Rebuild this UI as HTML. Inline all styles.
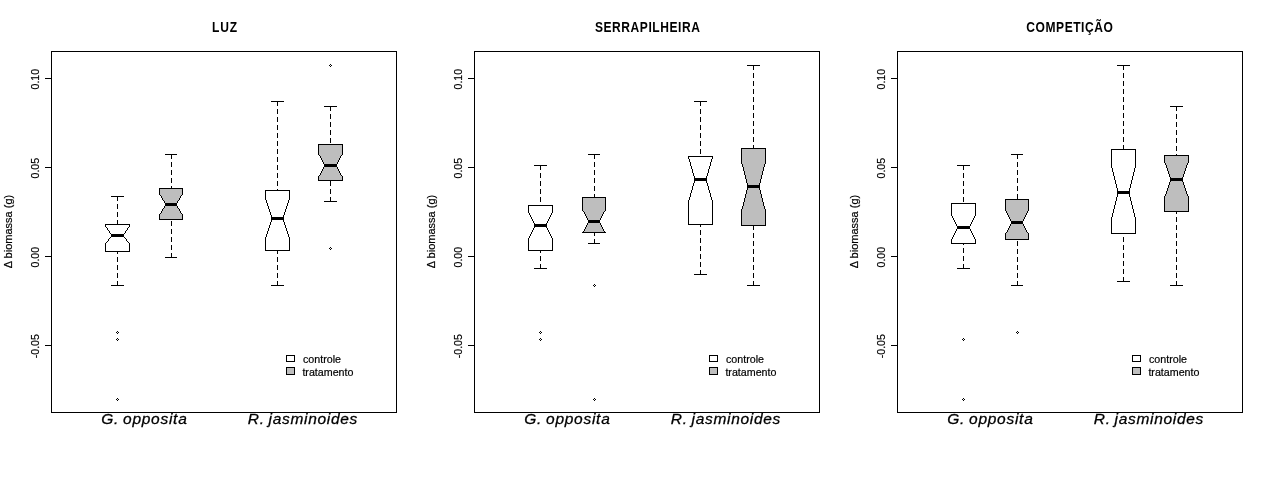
<!DOCTYPE html>
<html><head><meta charset="utf-8"><title>boxplots</title><style>html,body{margin:0;padding:0;background:#fff;}body{width:1269px;height:477px;overflow:hidden;}svg{display:block;}text{filter:opacity(1);}</style></head><body>
<svg width="1269" height="477" viewBox="0 0 1269 477">
<rect x="0" y="0" width="1269" height="477" fill="#fff"/>
<g shape-rendering="crispEdges">
<polygon points="105.5,224.5 129.5,224.5 129.5,226.5 123.5,235.5 129.5,243.5 129.5,251.5 105.5,251.5 105.5,243.5 111.5,235.5 105.5,226.5" fill="#ffffff"/>
<polygon points="159.5,188.5 182.5,188.5 182.5,194.5 176.5,204.5 182.5,214.5 182.5,219.5 159.5,219.5 159.5,214.5 165.5,204.5 159.5,194.5" fill="#bebebe"/>
<polygon points="265.5,190.5 289.5,190.5 289.5,199.5 283.5,218.5 289.5,237.5 289.5,250.5 265.5,250.5 265.5,237.5 271.5,218.5 265.5,199.5" fill="#ffffff"/>
<polygon points="318.5,144.5 342.5,144.5 342.5,154.5 336.5,165.5 342.5,176.5 342.5,180.5 318.5,180.5 318.5,176.5 324.5,165.5 318.5,154.5" fill="#bebebe"/>
<polygon points="286.5,355.5 294.5,355.5 294.5,361.5 286.5,361.5" fill="#ffffff"/>
<polygon points="286.5,367.5 294.5,367.5 294.5,374.5 286.5,374.5" fill="#bebebe"/>
<polygon points="528.5,205.5 552.5,205.5 552.5,212.5 546.5,225.5 552.5,238.5 552.5,250.5 528.5,250.5 528.5,238.5 534.5,225.5 528.5,212.5" fill="#ffffff"/>
<polygon points="582.5,197.5 605.5,197.5 605.5,210.5 599.5,221.5 605.5,232.5 605.5,232.5 582.5,232.5 582.5,232.5 588.5,221.5 582.5,210.5" fill="#bebebe"/>
<polygon points="688.5,156.5 712.5,156.5 712.5,158.5 706.5,179.5 712.5,200.5 712.5,224.5 688.5,224.5 688.5,200.5 694.5,179.5 688.5,158.5" fill="#ffffff"/>
<polygon points="741.5,148.5 765.5,148.5 765.5,163.5 759.5,186.5 765.5,209.5 765.5,225.5 741.5,225.5 741.5,209.5 747.5,186.5 741.5,163.5" fill="#bebebe"/>
<polygon points="709.5,355.5 717.5,355.5 717.5,361.5 709.5,361.5" fill="#ffffff"/>
<polygon points="709.5,367.5 717.5,367.5 717.5,374.5 709.5,374.5" fill="#bebebe"/>
<polygon points="951.5,203.5 975.5,203.5 975.5,215.5 969.5,227.5 975.5,239.5 975.5,243.5 951.5,243.5 951.5,239.5 957.5,227.5 951.5,215.5" fill="#ffffff"/>
<polygon points="1005.5,199.5 1028.5,199.5 1028.5,210.5 1022.5,222.5 1028.5,233.5 1028.5,239.5 1005.5,239.5 1005.5,233.5 1011.5,222.5 1005.5,210.5" fill="#bebebe"/>
<polygon points="1111.5,149.5 1135.5,149.5 1135.5,167.5 1129.5,192.5 1135.5,217.5 1135.5,233.5 1111.5,233.5 1111.5,217.5 1117.5,192.5 1111.5,167.5" fill="#ffffff"/>
<polygon points="1164.5,155.5 1188.5,155.5 1188.5,162.5 1182.5,179.5 1188.5,196.5 1188.5,211.5 1164.5,211.5 1164.5,196.5 1170.5,179.5 1164.5,162.5" fill="#bebebe"/>
<polygon points="1132.5,355.5 1140.5,355.5 1140.5,361.5 1132.5,361.5" fill="#ffffff"/>
<polygon points="1132.5,367.5 1140.5,367.5 1140.5,374.5 1132.5,374.5" fill="#bebebe"/>
<path fill="#000" d="M51 51h346v1h-346zM474 51h346v1h-346zM897 51h346v1h-346zM51 52h1v1h-1zM396 52h1v1h-1zM474 52h1v1h-1zM819 52h1v1h-1zM897 52h1v1h-1zM1242 52h1v1h-1zM51 53h1v1h-1zM396 53h1v1h-1zM474 53h1v1h-1zM819 53h1v1h-1zM897 53h1v1h-1zM1242 53h1v1h-1zM51 54h1v1h-1zM396 54h1v1h-1zM474 54h1v1h-1zM819 54h1v1h-1zM897 54h1v1h-1zM1242 54h1v1h-1zM51 55h1v1h-1zM396 55h1v1h-1zM474 55h1v1h-1zM819 55h1v1h-1zM897 55h1v1h-1zM1242 55h1v1h-1zM51 56h1v1h-1zM396 56h1v1h-1zM474 56h1v1h-1zM819 56h1v1h-1zM897 56h1v1h-1zM1242 56h1v1h-1zM51 57h1v1h-1zM396 57h1v1h-1zM474 57h1v1h-1zM819 57h1v1h-1zM897 57h1v1h-1zM1242 57h1v1h-1zM51 58h1v1h-1zM396 58h1v1h-1zM474 58h1v1h-1zM819 58h1v1h-1zM897 58h1v1h-1zM1242 58h1v1h-1zM51 59h1v1h-1zM396 59h1v1h-1zM474 59h1v1h-1zM819 59h1v1h-1zM897 59h1v1h-1zM1242 59h1v1h-1zM51 60h1v1h-1zM396 60h1v1h-1zM474 60h1v1h-1zM819 60h1v1h-1zM897 60h1v1h-1zM1242 60h1v1h-1zM51 61h1v1h-1zM396 61h1v1h-1zM474 61h1v1h-1zM819 61h1v1h-1zM897 61h1v1h-1zM1242 61h1v1h-1zM51 62h1v1h-1zM396 62h1v1h-1zM474 62h1v1h-1zM819 62h1v1h-1zM897 62h1v1h-1zM1242 62h1v1h-1zM51 63h1v1h-1zM396 63h1v1h-1zM474 63h1v1h-1zM819 63h1v1h-1zM897 63h1v1h-1zM1242 63h1v1h-1zM51 64h1v1h-1zM330 64h1v1h-1zM396 64h1v1h-1zM474 64h1v1h-1zM819 64h1v1h-1zM897 64h1v1h-1zM1242 64h1v1h-1zM51 65h1v1h-1zM329 65h1v1h-1zM331 65h1v1h-1zM396 65h1v1h-1zM474 65h1v1h-1zM747 65h13v1h-13zM819 65h1v1h-1zM897 65h1v1h-1zM1117 65h13v1h-13zM1242 65h1v1h-1zM51 66h1v1h-1zM330 66h1v1h-1zM396 66h1v1h-1zM474 66h1v1h-1zM753 66h1v1h-1zM819 66h1v1h-1zM897 66h1v1h-1zM1123 66h1v1h-1zM1242 66h1v1h-1zM51 67h1v1h-1zM396 67h1v1h-1zM474 67h1v1h-1zM753 67h1v1h-1zM819 67h1v1h-1zM897 67h1v1h-1zM1123 67h1v1h-1zM1242 67h1v1h-1zM51 68h1v1h-1zM396 68h1v1h-1zM474 68h1v1h-1zM753 68h1v1h-1zM819 68h1v1h-1zM897 68h1v1h-1zM1123 68h1v1h-1zM1242 68h1v1h-1zM51 69h1v1h-1zM396 69h1v1h-1zM474 69h1v1h-1zM753 69h1v1h-1zM819 69h1v1h-1zM897 69h1v1h-1zM1123 69h1v1h-1zM1242 69h1v1h-1zM51 70h1v1h-1zM396 70h1v1h-1zM474 70h1v1h-1zM819 70h1v1h-1zM897 70h1v1h-1zM1242 70h1v1h-1zM51 71h1v1h-1zM396 71h1v1h-1zM474 71h1v1h-1zM819 71h1v1h-1zM897 71h1v1h-1zM1242 71h1v1h-1zM51 72h1v1h-1zM396 72h1v1h-1zM474 72h1v1h-1zM819 72h1v1h-1zM897 72h1v1h-1zM1242 72h1v1h-1zM51 73h1v1h-1zM396 73h1v1h-1zM474 73h1v1h-1zM753 73h1v1h-1zM819 73h1v1h-1zM897 73h1v1h-1zM1123 73h1v1h-1zM1242 73h1v1h-1zM51 74h1v1h-1zM396 74h1v1h-1zM474 74h1v1h-1zM753 74h1v1h-1zM819 74h1v1h-1zM897 74h1v1h-1zM1123 74h1v1h-1zM1242 74h1v1h-1zM51 75h1v1h-1zM396 75h1v1h-1zM474 75h1v1h-1zM753 75h1v1h-1zM819 75h1v1h-1zM897 75h1v1h-1zM1123 75h1v1h-1zM1242 75h1v1h-1zM51 76h1v1h-1zM396 76h1v1h-1zM474 76h1v1h-1zM753 76h1v1h-1zM819 76h1v1h-1zM897 76h1v1h-1zM1123 76h1v1h-1zM1242 76h1v1h-1zM51 77h1v1h-1zM396 77h1v1h-1zM474 77h1v1h-1zM753 77h1v1h-1zM819 77h1v1h-1zM897 77h1v1h-1zM1123 77h1v1h-1zM1242 77h1v1h-1zM45 78h7v1h-7zM396 78h1v1h-1zM468 78h7v1h-7zM819 78h1v1h-1zM891 78h7v1h-7zM1242 78h1v1h-1zM51 79h1v1h-1zM396 79h1v1h-1zM474 79h1v1h-1zM819 79h1v1h-1zM897 79h1v1h-1zM1242 79h1v1h-1zM51 80h1v1h-1zM396 80h1v1h-1zM474 80h1v1h-1zM819 80h1v1h-1zM897 80h1v1h-1zM1242 80h1v1h-1zM51 81h1v1h-1zM396 81h1v1h-1zM474 81h1v1h-1zM753 81h1v1h-1zM819 81h1v1h-1zM897 81h1v1h-1zM1123 81h1v1h-1zM1242 81h1v1h-1zM51 82h1v1h-1zM396 82h1v1h-1zM474 82h1v1h-1zM753 82h1v1h-1zM819 82h1v1h-1zM897 82h1v1h-1zM1123 82h1v1h-1zM1242 82h1v1h-1zM51 83h1v1h-1zM396 83h1v1h-1zM474 83h1v1h-1zM753 83h1v1h-1zM819 83h1v1h-1zM897 83h1v1h-1zM1123 83h1v1h-1zM1242 83h1v1h-1zM51 84h1v1h-1zM396 84h1v1h-1zM474 84h1v1h-1zM753 84h1v1h-1zM819 84h1v1h-1zM897 84h1v1h-1zM1123 84h1v1h-1zM1242 84h1v1h-1zM51 85h1v1h-1zM396 85h1v1h-1zM474 85h1v1h-1zM753 85h1v1h-1zM819 85h1v1h-1zM897 85h1v1h-1zM1123 85h1v1h-1zM1242 85h1v1h-1zM51 86h1v1h-1zM396 86h1v1h-1zM474 86h1v1h-1zM819 86h1v1h-1zM897 86h1v1h-1zM1242 86h1v1h-1zM51 87h1v1h-1zM396 87h1v1h-1zM474 87h1v1h-1zM819 87h1v1h-1zM897 87h1v1h-1zM1242 87h1v1h-1zM51 88h1v1h-1zM396 88h1v1h-1zM474 88h1v1h-1zM819 88h1v1h-1zM897 88h1v1h-1zM1242 88h1v1h-1zM51 89h1v1h-1zM396 89h1v1h-1zM474 89h1v1h-1zM753 89h1v1h-1zM819 89h1v1h-1zM897 89h1v1h-1zM1123 89h1v1h-1zM1242 89h1v1h-1zM51 90h1v1h-1zM396 90h1v1h-1zM474 90h1v1h-1zM753 90h1v1h-1zM819 90h1v1h-1zM897 90h1v1h-1zM1123 90h1v1h-1zM1242 90h1v1h-1zM51 91h1v1h-1zM396 91h1v1h-1zM474 91h1v1h-1zM753 91h1v1h-1zM819 91h1v1h-1zM897 91h1v1h-1zM1123 91h1v1h-1zM1242 91h1v1h-1zM51 92h1v1h-1zM396 92h1v1h-1zM474 92h1v1h-1zM753 92h1v1h-1zM819 92h1v1h-1zM897 92h1v1h-1zM1123 92h1v1h-1zM1242 92h1v1h-1zM51 93h1v1h-1zM396 93h1v1h-1zM474 93h1v1h-1zM753 93h1v1h-1zM819 93h1v1h-1zM897 93h1v1h-1zM1123 93h1v1h-1zM1242 93h1v1h-1zM51 94h1v1h-1zM396 94h1v1h-1zM474 94h1v1h-1zM819 94h1v1h-1zM897 94h1v1h-1zM1242 94h1v1h-1zM51 95h1v1h-1zM396 95h1v1h-1zM474 95h1v1h-1zM819 95h1v1h-1zM897 95h1v1h-1zM1242 95h1v1h-1zM51 96h1v1h-1zM396 96h1v1h-1zM474 96h1v1h-1zM819 96h1v1h-1zM897 96h1v1h-1zM1242 96h1v1h-1zM51 97h1v1h-1zM396 97h1v1h-1zM474 97h1v1h-1zM753 97h1v1h-1zM819 97h1v1h-1zM897 97h1v1h-1zM1123 97h1v1h-1zM1242 97h1v1h-1zM51 98h1v1h-1zM396 98h1v1h-1zM474 98h1v1h-1zM753 98h1v1h-1zM819 98h1v1h-1zM897 98h1v1h-1zM1123 98h1v1h-1zM1242 98h1v1h-1zM51 99h1v1h-1zM396 99h1v1h-1zM474 99h1v1h-1zM753 99h1v1h-1zM819 99h1v1h-1zM897 99h1v1h-1zM1123 99h1v1h-1zM1242 99h1v1h-1zM51 100h1v1h-1zM396 100h1v1h-1zM474 100h1v1h-1zM753 100h1v1h-1zM819 100h1v1h-1zM897 100h1v1h-1zM1123 100h1v1h-1zM1242 100h1v1h-1zM51 101h1v1h-1zM271 101h13v1h-13zM396 101h1v1h-1zM474 101h1v1h-1zM694 101h13v1h-13zM753 101h1v1h-1zM819 101h1v1h-1zM897 101h1v1h-1zM1123 101h1v1h-1zM1242 101h1v1h-1zM51 102h1v1h-1zM277 102h1v1h-1zM396 102h1v1h-1zM474 102h1v1h-1zM700 102h1v1h-1zM819 102h1v1h-1zM897 102h1v1h-1zM1242 102h1v1h-1zM51 103h1v1h-1zM277 103h1v1h-1zM396 103h1v1h-1zM474 103h1v1h-1zM700 103h1v1h-1zM819 103h1v1h-1zM897 103h1v1h-1zM1242 103h1v1h-1zM51 104h1v1h-1zM277 104h1v1h-1zM396 104h1v1h-1zM474 104h1v1h-1zM700 104h1v1h-1zM819 104h1v1h-1zM897 104h1v1h-1zM1242 104h1v1h-1zM51 105h1v1h-1zM277 105h1v1h-1zM396 105h1v1h-1zM474 105h1v1h-1zM700 105h1v1h-1zM753 105h1v1h-1zM819 105h1v1h-1zM897 105h1v1h-1zM1123 105h1v1h-1zM1242 105h1v1h-1zM51 106h1v1h-1zM324 106h13v1h-13zM396 106h1v1h-1zM474 106h1v1h-1zM753 106h1v1h-1zM819 106h1v1h-1zM897 106h1v1h-1zM1123 106h1v1h-1zM1170 106h13v1h-13zM1242 106h1v1h-1zM51 107h1v1h-1zM330 107h1v1h-1zM396 107h1v1h-1zM474 107h1v1h-1zM753 107h1v1h-1zM819 107h1v1h-1zM897 107h1v1h-1zM1123 107h1v1h-1zM1176 107h1v1h-1zM1242 107h1v1h-1zM51 108h1v1h-1zM330 108h1v1h-1zM396 108h1v1h-1zM474 108h1v1h-1zM753 108h1v1h-1zM819 108h1v1h-1zM897 108h1v1h-1zM1123 108h1v1h-1zM1176 108h1v1h-1zM1242 108h1v1h-1zM51 109h1v1h-1zM277 109h1v1h-1zM330 109h1v1h-1zM396 109h1v1h-1zM474 109h1v1h-1zM700 109h1v1h-1zM753 109h1v1h-1zM819 109h1v1h-1zM897 109h1v1h-1zM1123 109h1v1h-1zM1176 109h1v1h-1zM1242 109h1v1h-1zM51 110h1v1h-1zM277 110h1v1h-1zM330 110h1v1h-1zM396 110h1v1h-1zM474 110h1v1h-1zM700 110h1v1h-1zM819 110h1v1h-1zM897 110h1v1h-1zM1176 110h1v1h-1zM1242 110h1v1h-1zM51 111h1v1h-1zM277 111h1v1h-1zM396 111h1v1h-1zM474 111h1v1h-1zM700 111h1v1h-1zM819 111h1v1h-1zM897 111h1v1h-1zM1242 111h1v1h-1zM51 112h1v1h-1zM277 112h1v1h-1zM396 112h1v1h-1zM474 112h1v1h-1zM700 112h1v1h-1zM819 112h1v1h-1zM897 112h1v1h-1zM1242 112h1v1h-1zM51 113h1v1h-1zM277 113h1v1h-1zM396 113h1v1h-1zM474 113h1v1h-1zM700 113h1v1h-1zM753 113h1v1h-1zM819 113h1v1h-1zM897 113h1v1h-1zM1123 113h1v1h-1zM1242 113h1v1h-1zM51 114h1v1h-1zM330 114h1v1h-1zM396 114h1v1h-1zM474 114h1v1h-1zM753 114h1v1h-1zM819 114h1v1h-1zM897 114h1v1h-1zM1123 114h1v1h-1zM1176 114h1v1h-1zM1242 114h1v1h-1zM51 115h1v1h-1zM330 115h1v1h-1zM396 115h1v1h-1zM474 115h1v1h-1zM753 115h1v1h-1zM819 115h1v1h-1zM897 115h1v1h-1zM1123 115h1v1h-1zM1176 115h1v1h-1zM1242 115h1v1h-1zM51 116h1v1h-1zM330 116h1v1h-1zM396 116h1v1h-1zM474 116h1v1h-1zM753 116h1v1h-1zM819 116h1v1h-1zM897 116h1v1h-1zM1123 116h1v1h-1zM1176 116h1v1h-1zM1242 116h1v1h-1zM51 117h1v1h-1zM277 117h1v1h-1zM330 117h1v1h-1zM396 117h1v1h-1zM474 117h1v1h-1zM700 117h1v1h-1zM753 117h1v1h-1zM819 117h1v1h-1zM897 117h1v1h-1zM1123 117h1v1h-1zM1176 117h1v1h-1zM1242 117h1v1h-1zM51 118h1v1h-1zM277 118h1v1h-1zM330 118h1v1h-1zM396 118h1v1h-1zM474 118h1v1h-1zM700 118h1v1h-1zM819 118h1v1h-1zM897 118h1v1h-1zM1176 118h1v1h-1zM1242 118h1v1h-1zM51 119h1v1h-1zM277 119h1v1h-1zM396 119h1v1h-1zM474 119h1v1h-1zM700 119h1v1h-1zM819 119h1v1h-1zM897 119h1v1h-1zM1242 119h1v1h-1zM51 120h1v1h-1zM277 120h1v1h-1zM396 120h1v1h-1zM474 120h1v1h-1zM700 120h1v1h-1zM819 120h1v1h-1zM897 120h1v1h-1zM1242 120h1v1h-1zM51 121h1v1h-1zM277 121h1v1h-1zM396 121h1v1h-1zM474 121h1v1h-1zM700 121h1v1h-1zM753 121h1v1h-1zM819 121h1v1h-1zM897 121h1v1h-1zM1123 121h1v1h-1zM1242 121h1v1h-1zM51 122h1v1h-1zM330 122h1v1h-1zM396 122h1v1h-1zM474 122h1v1h-1zM753 122h1v1h-1zM819 122h1v1h-1zM897 122h1v1h-1zM1123 122h1v1h-1zM1176 122h1v1h-1zM1242 122h1v1h-1zM51 123h1v1h-1zM330 123h1v1h-1zM396 123h1v1h-1zM474 123h1v1h-1zM753 123h1v1h-1zM819 123h1v1h-1zM897 123h1v1h-1zM1123 123h1v1h-1zM1176 123h1v1h-1zM1242 123h1v1h-1zM51 124h1v1h-1zM330 124h1v1h-1zM396 124h1v1h-1zM474 124h1v1h-1zM753 124h1v1h-1zM819 124h1v1h-1zM897 124h1v1h-1zM1123 124h1v1h-1zM1176 124h1v1h-1zM1242 124h1v1h-1zM51 125h1v1h-1zM277 125h1v1h-1zM330 125h1v1h-1zM396 125h1v1h-1zM474 125h1v1h-1zM700 125h1v1h-1zM753 125h1v1h-1zM819 125h1v1h-1zM897 125h1v1h-1zM1123 125h1v1h-1zM1176 125h1v1h-1zM1242 125h1v1h-1zM51 126h1v1h-1zM277 126h1v1h-1zM330 126h1v1h-1zM396 126h1v1h-1zM474 126h1v1h-1zM700 126h1v1h-1zM819 126h1v1h-1zM897 126h1v1h-1zM1176 126h1v1h-1zM1242 126h1v1h-1zM51 127h1v1h-1zM277 127h1v1h-1zM396 127h1v1h-1zM474 127h1v1h-1zM700 127h1v1h-1zM819 127h1v1h-1zM897 127h1v1h-1zM1242 127h1v1h-1zM51 128h1v1h-1zM277 128h1v1h-1zM396 128h1v1h-1zM474 128h1v1h-1zM700 128h1v1h-1zM819 128h1v1h-1zM897 128h1v1h-1zM1242 128h1v1h-1zM51 129h1v1h-1zM277 129h1v1h-1zM396 129h1v1h-1zM474 129h1v1h-1zM700 129h1v1h-1zM753 129h1v1h-1zM819 129h1v1h-1zM897 129h1v1h-1zM1123 129h1v1h-1zM1242 129h1v1h-1zM51 130h1v1h-1zM330 130h1v1h-1zM396 130h1v1h-1zM474 130h1v1h-1zM753 130h1v1h-1zM819 130h1v1h-1zM897 130h1v1h-1zM1123 130h1v1h-1zM1176 130h1v1h-1zM1242 130h1v1h-1zM51 131h1v1h-1zM330 131h1v1h-1zM396 131h1v1h-1zM474 131h1v1h-1zM753 131h1v1h-1zM819 131h1v1h-1zM897 131h1v1h-1zM1123 131h1v1h-1zM1176 131h1v1h-1zM1242 131h1v1h-1zM51 132h1v1h-1zM330 132h1v1h-1zM396 132h1v1h-1zM474 132h1v1h-1zM753 132h1v1h-1zM819 132h1v1h-1zM897 132h1v1h-1zM1123 132h1v1h-1zM1176 132h1v1h-1zM1242 132h1v1h-1zM51 133h1v1h-1zM277 133h1v1h-1zM330 133h1v1h-1zM396 133h1v1h-1zM474 133h1v1h-1zM700 133h1v1h-1zM753 133h1v1h-1zM819 133h1v1h-1zM897 133h1v1h-1zM1123 133h1v1h-1zM1176 133h1v1h-1zM1242 133h1v1h-1zM51 134h1v1h-1zM277 134h1v1h-1zM330 134h1v1h-1zM396 134h1v1h-1zM474 134h1v1h-1zM700 134h1v1h-1zM819 134h1v1h-1zM897 134h1v1h-1zM1176 134h1v1h-1zM1242 134h1v1h-1zM51 135h1v1h-1zM277 135h1v1h-1zM396 135h1v1h-1zM474 135h1v1h-1zM700 135h1v1h-1zM819 135h1v1h-1zM897 135h1v1h-1zM1242 135h1v1h-1zM51 136h1v1h-1zM277 136h1v1h-1zM396 136h1v1h-1zM474 136h1v1h-1zM700 136h1v1h-1zM819 136h1v1h-1zM897 136h1v1h-1zM1242 136h1v1h-1zM51 137h1v1h-1zM277 137h1v1h-1zM396 137h1v1h-1zM474 137h1v1h-1zM700 137h1v1h-1zM753 137h1v1h-1zM819 137h1v1h-1zM897 137h1v1h-1zM1123 137h1v1h-1zM1242 137h1v1h-1zM51 138h1v1h-1zM330 138h1v1h-1zM396 138h1v1h-1zM474 138h1v1h-1zM753 138h1v1h-1zM819 138h1v1h-1zM897 138h1v1h-1zM1123 138h1v1h-1zM1176 138h1v1h-1zM1242 138h1v1h-1zM51 139h1v1h-1zM330 139h1v1h-1zM396 139h1v1h-1zM474 139h1v1h-1zM753 139h1v1h-1zM819 139h1v1h-1zM897 139h1v1h-1zM1123 139h1v1h-1zM1176 139h1v1h-1zM1242 139h1v1h-1zM51 140h1v1h-1zM330 140h1v1h-1zM396 140h1v1h-1zM474 140h1v1h-1zM753 140h1v1h-1zM819 140h1v1h-1zM897 140h1v1h-1zM1123 140h1v1h-1zM1176 140h1v1h-1zM1242 140h1v1h-1zM51 141h1v1h-1zM277 141h1v1h-1zM330 141h1v1h-1zM396 141h1v1h-1zM474 141h1v1h-1zM700 141h1v1h-1zM753 141h1v1h-1zM819 141h1v1h-1zM897 141h1v1h-1zM1123 141h1v1h-1zM1176 141h1v1h-1zM1242 141h1v1h-1zM51 142h1v1h-1zM277 142h1v1h-1zM330 142h1v1h-1zM396 142h1v1h-1zM474 142h1v1h-1zM700 142h1v1h-1zM819 142h1v1h-1zM897 142h1v1h-1zM1176 142h1v1h-1zM1242 142h1v1h-1zM51 143h1v1h-1zM277 143h1v1h-1zM396 143h1v1h-1zM474 143h1v1h-1zM700 143h1v1h-1zM819 143h1v1h-1zM897 143h1v1h-1zM1242 143h1v1h-1zM51 144h1v1h-1zM277 144h1v1h-1zM318 144h25v1h-25zM396 144h1v1h-1zM474 144h1v1h-1zM700 144h1v1h-1zM819 144h1v1h-1zM897 144h1v1h-1zM1242 144h1v1h-1zM51 145h1v1h-1zM277 145h1v1h-1zM318 145h1v1h-1zM342 145h1v1h-1zM396 145h1v1h-1zM474 145h1v1h-1zM700 145h1v1h-1zM753 145h1v1h-1zM819 145h1v1h-1zM897 145h1v1h-1zM1123 145h1v1h-1zM1242 145h1v1h-1zM51 146h1v1h-1zM318 146h1v1h-1zM342 146h1v1h-1zM396 146h1v1h-1zM474 146h1v1h-1zM753 146h1v1h-1zM819 146h1v1h-1zM897 146h1v1h-1zM1123 146h1v1h-1zM1176 146h1v1h-1zM1242 146h1v1h-1zM51 147h1v1h-1zM318 147h1v1h-1zM342 147h1v1h-1zM396 147h1v1h-1zM474 147h1v1h-1zM753 147h1v1h-1zM819 147h1v1h-1zM897 147h1v1h-1zM1123 147h1v1h-1zM1176 147h1v1h-1zM1242 147h1v1h-1zM51 148h1v1h-1zM318 148h1v1h-1zM342 148h1v1h-1zM396 148h1v1h-1zM474 148h1v1h-1zM741 148h25v1h-25zM819 148h1v1h-1zM897 148h1v1h-1zM1123 148h1v1h-1zM1176 148h1v1h-1zM1242 148h1v1h-1zM51 149h1v1h-1zM277 149h1v1h-1zM318 149h1v1h-1zM342 149h1v1h-1zM396 149h1v1h-1zM474 149h1v1h-1zM700 149h1v1h-1zM741 149h1v1h-1zM765 149h1v1h-1zM819 149h1v1h-1zM897 149h1v1h-1zM1111 149h25v1h-25zM1176 149h1v1h-1zM1242 149h1v1h-1zM51 150h1v1h-1zM277 150h1v1h-1zM318 150h1v1h-1zM342 150h1v1h-1zM396 150h1v1h-1zM474 150h1v1h-1zM700 150h1v1h-1zM741 150h1v1h-1zM765 150h1v1h-1zM819 150h1v1h-1zM897 150h1v1h-1zM1111 150h1v1h-1zM1135 150h1v1h-1zM1176 150h1v1h-1zM1242 150h1v1h-1zM51 151h1v1h-1zM277 151h1v1h-1zM318 151h1v1h-1zM342 151h1v1h-1zM396 151h1v1h-1zM474 151h1v1h-1zM700 151h1v1h-1zM741 151h1v1h-1zM765 151h1v1h-1zM819 151h1v1h-1zM897 151h1v1h-1zM1111 151h1v1h-1zM1135 151h1v1h-1zM1242 151h1v1h-1zM51 152h1v1h-1zM277 152h1v1h-1zM318 152h1v1h-1zM342 152h1v1h-1zM396 152h1v1h-1zM474 152h1v1h-1zM700 152h1v1h-1zM741 152h1v1h-1zM765 152h1v1h-1zM819 152h1v1h-1zM897 152h1v1h-1zM1111 152h1v1h-1zM1135 152h1v1h-1zM1242 152h1v1h-1zM51 153h1v1h-1zM277 153h1v1h-1zM318 153h1v1h-1zM342 153h1v1h-1zM396 153h1v1h-1zM474 153h1v1h-1zM700 153h1v1h-1zM741 153h1v1h-1zM765 153h1v1h-1zM819 153h1v1h-1zM897 153h1v1h-1zM1111 153h1v1h-1zM1135 153h1v1h-1zM1242 153h1v1h-1zM51 154h1v1h-1zM165 154h12v1h-12zM318 154h1v1h-1zM342 154h1v1h-1zM396 154h1v1h-1zM474 154h1v1h-1zM588 154h12v1h-12zM741 154h1v1h-1zM765 154h1v1h-1zM819 154h1v1h-1zM897 154h1v1h-1zM1011 154h12v1h-12zM1111 154h1v1h-1zM1135 154h1v1h-1zM1176 154h1v1h-1zM1242 154h1v1h-1zM51 155h1v1h-1zM171 155h1v1h-1zM319 155h1v1h-1zM341 155h1v1h-1zM396 155h1v1h-1zM474 155h1v1h-1zM594 155h1v1h-1zM741 155h1v1h-1zM765 155h1v1h-1zM819 155h1v1h-1zM897 155h1v1h-1zM1017 155h1v1h-1zM1111 155h1v1h-1zM1135 155h1v1h-1zM1164 155h25v1h-25zM1242 155h1v1h-1zM51 156h1v1h-1zM171 156h1v1h-1zM320 156h1v1h-1zM340 156h1v1h-1zM396 156h1v1h-1zM474 156h1v1h-1zM594 156h1v1h-1zM688 156h25v1h-25zM741 156h1v1h-1zM765 156h1v1h-1zM819 156h1v1h-1zM897 156h1v1h-1zM1017 156h1v1h-1zM1111 156h1v1h-1zM1135 156h1v1h-1zM1164 156h1v1h-1zM1188 156h1v1h-1zM1242 156h1v1h-1zM51 157h1v1h-1zM171 157h1v1h-1zM277 157h1v1h-1zM320 157h1v1h-1zM340 157h1v1h-1zM396 157h1v1h-1zM474 157h1v1h-1zM594 157h1v1h-1zM688 157h1v1h-1zM712 157h1v1h-1zM741 157h1v1h-1zM765 157h1v1h-1zM819 157h1v1h-1zM897 157h1v1h-1zM1017 157h1v1h-1zM1111 157h1v1h-1zM1135 157h1v1h-1zM1164 157h1v1h-1zM1188 157h1v1h-1zM1242 157h1v1h-1zM51 158h1v1h-1zM171 158h1v1h-1zM277 158h1v1h-1zM321 158h1v1h-1zM339 158h1v1h-1zM396 158h1v1h-1zM474 158h1v1h-1zM594 158h1v1h-1zM688 158h1v1h-1zM712 158h1v1h-1zM741 158h1v1h-1zM765 158h1v1h-1zM819 158h1v1h-1zM897 158h1v1h-1zM1017 158h1v1h-1zM1111 158h1v1h-1zM1135 158h1v1h-1zM1164 158h1v1h-1zM1188 158h1v1h-1zM1242 158h1v1h-1zM51 159h1v1h-1zM277 159h1v1h-1zM321 159h1v1h-1zM339 159h1v1h-1zM396 159h1v1h-1zM474 159h1v1h-1zM689 159h1v1h-1zM711 159h1v1h-1zM741 159h1v1h-1zM765 159h1v1h-1zM819 159h1v1h-1zM897 159h1v1h-1zM1111 159h1v1h-1zM1135 159h1v1h-1zM1164 159h1v1h-1zM1188 159h1v1h-1zM1242 159h1v1h-1zM51 160h1v1h-1zM277 160h1v1h-1zM322 160h1v1h-1zM338 160h1v1h-1zM396 160h1v1h-1zM474 160h1v1h-1zM689 160h1v1h-1zM711 160h1v1h-1zM741 160h1v1h-1zM765 160h1v1h-1zM819 160h1v1h-1zM897 160h1v1h-1zM1111 160h1v1h-1zM1135 160h1v1h-1zM1164 160h1v1h-1zM1188 160h1v1h-1zM1242 160h1v1h-1zM51 161h1v1h-1zM277 161h1v1h-1zM322 161h1v1h-1zM338 161h1v1h-1zM396 161h1v1h-1zM474 161h1v1h-1zM689 161h1v1h-1zM711 161h1v1h-1zM741 161h1v1h-1zM765 161h1v1h-1zM819 161h1v1h-1zM897 161h1v1h-1zM1111 161h1v1h-1zM1135 161h1v1h-1zM1164 161h1v1h-1zM1188 161h1v1h-1zM1242 161h1v1h-1zM51 162h1v1h-1zM171 162h1v1h-1zM323 162h1v1h-1zM337 162h1v1h-1zM396 162h1v1h-1zM474 162h1v1h-1zM594 162h1v1h-1zM690 162h1v1h-1zM710 162h1v1h-1zM741 162h1v1h-1zM765 162h1v1h-1zM819 162h1v1h-1zM897 162h1v1h-1zM1017 162h1v1h-1zM1111 162h1v1h-1zM1135 162h1v1h-1zM1164 162h1v1h-1zM1188 162h1v1h-1zM1242 162h1v1h-1zM51 163h1v1h-1zM171 163h1v1h-1zM323 163h1v1h-1zM337 163h1v1h-1zM396 163h1v1h-1zM474 163h1v1h-1zM594 163h1v1h-1zM690 163h1v1h-1zM710 163h1v1h-1zM741 163h1v1h-1zM765 163h1v1h-1zM819 163h1v1h-1zM897 163h1v1h-1zM1017 163h1v1h-1zM1111 163h1v1h-1zM1135 163h1v1h-1zM1165 163h1v1h-1zM1187 163h1v1h-1zM1242 163h1v1h-1zM51 164h1v1h-1zM171 164h1v1h-1zM324 164h1v1h-1zM336 164h1v1h-1zM396 164h1v1h-1zM474 164h1v1h-1zM594 164h1v1h-1zM690 164h1v1h-1zM710 164h1v1h-1zM742 164h1v1h-1zM764 164h1v1h-1zM819 164h1v1h-1zM897 164h1v1h-1zM1017 164h1v1h-1zM1111 164h1v1h-1zM1135 164h1v1h-1zM1165 164h1v1h-1zM1187 164h1v1h-1zM1242 164h1v1h-1zM51 165h1v1h-1zM171 165h1v1h-1zM277 165h1v1h-1zM324 165h1v1h-1zM336 165h1v1h-1zM396 165h1v1h-1zM474 165h1v1h-1zM534 165h13v1h-13zM594 165h1v1h-1zM690 165h1v1h-1zM710 165h1v1h-1zM742 165h1v1h-1zM764 165h1v1h-1zM819 165h1v1h-1zM897 165h1v1h-1zM957 165h13v1h-13zM1017 165h1v1h-1zM1111 165h1v1h-1zM1135 165h1v1h-1zM1166 165h1v1h-1zM1186 165h1v1h-1zM1242 165h1v1h-1zM51 166h1v1h-1zM171 166h1v1h-1zM277 166h1v1h-1zM324 166h1v1h-1zM336 166h1v1h-1zM396 166h1v1h-1zM474 166h1v1h-1zM540 166h1v1h-1zM594 166h1v1h-1zM691 166h1v1h-1zM709 166h1v1h-1zM742 166h1v1h-1zM764 166h1v1h-1zM819 166h1v1h-1zM897 166h1v1h-1zM963 166h1v1h-1zM1017 166h1v1h-1zM1111 166h1v1h-1zM1135 166h1v1h-1zM1166 166h1v1h-1zM1186 166h1v1h-1zM1242 166h1v1h-1zM45 167h7v1h-7zM277 167h1v1h-1zM323 167h1v1h-1zM337 167h1v1h-1zM396 167h1v1h-1zM468 167h7v1h-7zM540 167h1v1h-1zM691 167h1v1h-1zM709 167h1v1h-1zM743 167h1v1h-1zM763 167h1v1h-1zM819 167h1v1h-1zM891 167h7v1h-7zM963 167h1v1h-1zM1111 167h1v1h-1zM1135 167h1v1h-1zM1166 167h1v1h-1zM1186 167h1v1h-1zM1242 167h1v1h-1zM51 168h1v1h-1zM277 168h1v1h-1zM323 168h1v1h-1zM337 168h1v1h-1zM396 168h1v1h-1zM474 168h1v1h-1zM540 168h1v1h-1zM691 168h1v1h-1zM709 168h1v1h-1zM743 168h1v1h-1zM763 168h1v1h-1zM819 168h1v1h-1zM897 168h1v1h-1zM963 168h1v1h-1zM1112 168h1v1h-1zM1134 168h1v1h-1zM1167 168h1v1h-1zM1185 168h1v1h-1zM1242 168h1v1h-1zM51 169h1v1h-1zM277 169h1v1h-1zM322 169h1v1h-1zM338 169h1v1h-1zM396 169h1v1h-1zM474 169h1v1h-1zM540 169h1v1h-1zM692 169h1v1h-1zM708 169h1v1h-1zM743 169h1v1h-1zM763 169h1v1h-1zM819 169h1v1h-1zM897 169h1v1h-1zM963 169h1v1h-1zM1112 169h1v1h-1zM1134 169h1v1h-1zM1167 169h1v1h-1zM1185 169h1v1h-1zM1242 169h1v1h-1zM51 170h1v1h-1zM171 170h1v1h-1zM322 170h1v1h-1zM338 170h1v1h-1zM396 170h1v1h-1zM474 170h1v1h-1zM594 170h1v1h-1zM692 170h1v1h-1zM708 170h1v1h-1zM743 170h1v1h-1zM763 170h1v1h-1zM819 170h1v1h-1zM897 170h1v1h-1zM1017 170h1v1h-1zM1112 170h1v1h-1zM1134 170h1v1h-1zM1167 170h1v1h-1zM1185 170h1v1h-1zM1242 170h1v1h-1zM51 171h1v1h-1zM171 171h1v1h-1zM321 171h1v1h-1zM339 171h1v1h-1zM396 171h1v1h-1zM474 171h1v1h-1zM594 171h1v1h-1zM692 171h1v1h-1zM708 171h1v1h-1zM744 171h1v1h-1zM762 171h1v1h-1zM819 171h1v1h-1zM897 171h1v1h-1zM1017 171h1v1h-1zM1112 171h1v1h-1zM1134 171h1v1h-1zM1168 171h1v1h-1zM1184 171h1v1h-1zM1242 171h1v1h-1zM51 172h1v1h-1zM171 172h1v1h-1zM321 172h1v1h-1zM339 172h1v1h-1zM396 172h1v1h-1zM474 172h1v1h-1zM594 172h1v1h-1zM692 172h1v1h-1zM708 172h1v1h-1zM744 172h1v1h-1zM762 172h1v1h-1zM819 172h1v1h-1zM897 172h1v1h-1zM1017 172h1v1h-1zM1113 172h1v1h-1zM1133 172h1v1h-1zM1168 172h1v1h-1zM1184 172h1v1h-1zM1242 172h1v1h-1zM51 173h1v1h-1zM171 173h1v1h-1zM277 173h1v1h-1zM320 173h1v1h-1zM340 173h1v1h-1zM396 173h1v1h-1zM474 173h1v1h-1zM540 173h1v1h-1zM594 173h1v1h-1zM693 173h1v1h-1zM707 173h1v1h-1zM744 173h1v1h-1zM762 173h1v1h-1zM819 173h1v1h-1zM897 173h1v1h-1zM963 173h1v1h-1zM1017 173h1v1h-1zM1113 173h1v1h-1zM1133 173h1v1h-1zM1168 173h1v1h-1zM1184 173h1v1h-1zM1242 173h1v1h-1zM51 174h1v1h-1zM171 174h1v1h-1zM277 174h1v1h-1zM320 174h1v1h-1zM340 174h1v1h-1zM396 174h1v1h-1zM474 174h1v1h-1zM540 174h1v1h-1zM594 174h1v1h-1zM693 174h1v1h-1zM707 174h1v1h-1zM744 174h1v1h-1zM762 174h1v1h-1zM819 174h1v1h-1zM897 174h1v1h-1zM963 174h1v1h-1zM1017 174h1v1h-1zM1113 174h1v1h-1zM1133 174h1v1h-1zM1169 174h1v1h-1zM1183 174h1v1h-1zM1242 174h1v1h-1zM51 175h1v1h-1zM277 175h1v1h-1zM319 175h1v1h-1zM341 175h1v1h-1zM396 175h1v1h-1zM474 175h1v1h-1zM540 175h1v1h-1zM693 175h1v1h-1zM707 175h1v1h-1zM745 175h1v1h-1zM761 175h1v1h-1zM819 175h1v1h-1zM897 175h1v1h-1zM963 175h1v1h-1zM1113 175h1v1h-1zM1133 175h1v1h-1zM1169 175h1v1h-1zM1183 175h1v1h-1zM1242 175h1v1h-1zM51 176h1v1h-1zM277 176h1v1h-1zM318 176h1v1h-1zM342 176h1v1h-1zM396 176h1v1h-1zM474 176h1v1h-1zM540 176h1v1h-1zM694 176h1v1h-1zM706 176h1v1h-1zM745 176h1v1h-1zM761 176h1v1h-1zM819 176h1v1h-1zM897 176h1v1h-1zM963 176h1v1h-1zM1114 176h1v1h-1zM1132 176h1v1h-1zM1169 176h1v1h-1zM1183 176h1v1h-1zM1242 176h1v1h-1zM51 177h1v1h-1zM277 177h1v1h-1zM318 177h1v1h-1zM342 177h1v1h-1zM396 177h1v1h-1zM474 177h1v1h-1zM540 177h1v1h-1zM694 177h1v1h-1zM706 177h1v1h-1zM745 177h1v1h-1zM761 177h1v1h-1zM819 177h1v1h-1zM897 177h1v1h-1zM963 177h1v1h-1zM1114 177h1v1h-1zM1132 177h1v1h-1zM1170 177h1v1h-1zM1182 177h1v1h-1zM1242 177h1v1h-1zM51 178h1v1h-1zM171 178h1v1h-1zM318 178h1v1h-1zM342 178h1v1h-1zM396 178h1v1h-1zM474 178h1v1h-1zM594 178h1v1h-1zM694 178h1v1h-1zM706 178h1v1h-1zM745 178h1v1h-1zM761 178h1v1h-1zM819 178h1v1h-1zM897 178h1v1h-1zM1017 178h1v1h-1zM1114 178h1v1h-1zM1132 178h1v1h-1zM1170 178h1v1h-1zM1182 178h1v1h-1zM1242 178h1v1h-1zM51 179h1v1h-1zM171 179h1v1h-1zM318 179h1v1h-1zM342 179h1v1h-1zM396 179h1v1h-1zM474 179h1v1h-1zM594 179h1v1h-1zM694 179h1v1h-1zM706 179h1v1h-1zM746 179h1v1h-1zM760 179h1v1h-1zM819 179h1v1h-1zM897 179h1v1h-1zM1017 179h1v1h-1zM1114 179h1v1h-1zM1132 179h1v1h-1zM1170 179h1v1h-1zM1182 179h1v1h-1zM1242 179h1v1h-1zM51 180h1v1h-1zM171 180h1v1h-1zM318 180h25v1h-25zM396 180h1v1h-1zM474 180h1v1h-1zM594 180h1v1h-1zM694 180h1v1h-1zM706 180h1v1h-1zM746 180h1v1h-1zM760 180h1v1h-1zM819 180h1v1h-1zM897 180h1v1h-1zM1017 180h1v1h-1zM1115 180h1v1h-1zM1131 180h1v1h-1zM1170 180h1v1h-1zM1182 180h1v1h-1zM1242 180h1v1h-1zM51 181h1v1h-1zM171 181h1v1h-1zM277 181h1v1h-1zM330 181h1v1h-1zM396 181h1v1h-1zM474 181h1v1h-1zM540 181h1v1h-1zM594 181h1v1h-1zM694 181h1v1h-1zM706 181h1v1h-1zM746 181h1v1h-1zM760 181h1v1h-1zM819 181h1v1h-1zM897 181h1v1h-1zM963 181h1v1h-1zM1017 181h1v1h-1zM1115 181h1v1h-1zM1131 181h1v1h-1zM1170 181h1v1h-1zM1182 181h1v1h-1zM1242 181h1v1h-1zM51 182h1v1h-1zM171 182h1v1h-1zM277 182h1v1h-1zM330 182h1v1h-1zM396 182h1v1h-1zM474 182h1v1h-1zM540 182h1v1h-1zM594 182h1v1h-1zM694 182h1v1h-1zM706 182h1v1h-1zM746 182h1v1h-1zM760 182h1v1h-1zM819 182h1v1h-1zM897 182h1v1h-1zM963 182h1v1h-1zM1017 182h1v1h-1zM1115 182h1v1h-1zM1131 182h1v1h-1zM1169 182h1v1h-1zM1183 182h1v1h-1zM1242 182h1v1h-1zM51 183h1v1h-1zM277 183h1v1h-1zM330 183h1v1h-1zM396 183h1v1h-1zM474 183h1v1h-1zM540 183h1v1h-1zM693 183h1v1h-1zM707 183h1v1h-1zM747 183h1v1h-1zM759 183h1v1h-1zM819 183h1v1h-1zM897 183h1v1h-1zM963 183h1v1h-1zM1115 183h1v1h-1zM1131 183h1v1h-1zM1169 183h1v1h-1zM1183 183h1v1h-1zM1242 183h1v1h-1zM51 184h1v1h-1zM277 184h1v1h-1zM330 184h1v1h-1zM396 184h1v1h-1zM474 184h1v1h-1zM540 184h1v1h-1zM693 184h1v1h-1zM707 184h1v1h-1zM747 184h1v1h-1zM759 184h1v1h-1zM819 184h1v1h-1zM897 184h1v1h-1zM963 184h1v1h-1zM1116 184h1v1h-1zM1130 184h1v1h-1zM1169 184h1v1h-1zM1183 184h1v1h-1zM1242 184h1v1h-1zM51 185h1v1h-1zM277 185h1v1h-1zM330 185h1v1h-1zM396 185h1v1h-1zM474 185h1v1h-1zM540 185h1v1h-1zM693 185h1v1h-1zM707 185h1v1h-1zM747 185h1v1h-1zM759 185h1v1h-1zM819 185h1v1h-1zM897 185h1v1h-1zM963 185h1v1h-1zM1116 185h1v1h-1zM1130 185h1v1h-1zM1168 185h1v1h-1zM1184 185h1v1h-1zM1242 185h1v1h-1zM51 186h1v1h-1zM171 186h1v1h-1zM396 186h1v1h-1zM474 186h1v1h-1zM594 186h1v1h-1zM692 186h1v1h-1zM708 186h1v1h-1zM747 186h1v1h-1zM759 186h1v1h-1zM819 186h1v1h-1zM897 186h1v1h-1zM1017 186h1v1h-1zM1116 186h1v1h-1zM1130 186h1v1h-1zM1168 186h1v1h-1zM1184 186h1v1h-1zM1242 186h1v1h-1zM51 187h1v1h-1zM171 187h1v1h-1zM396 187h1v1h-1zM474 187h1v1h-1zM594 187h1v1h-1zM692 187h1v1h-1zM708 187h1v1h-1zM747 187h1v1h-1zM759 187h1v1h-1zM819 187h1v1h-1zM897 187h1v1h-1zM1017 187h1v1h-1zM1116 187h1v1h-1zM1130 187h1v1h-1zM1168 187h1v1h-1zM1184 187h1v1h-1zM1242 187h1v1h-1zM51 188h1v1h-1zM159 188h24v1h-24zM396 188h1v1h-1zM474 188h1v1h-1zM594 188h1v1h-1zM692 188h1v1h-1zM708 188h1v1h-1zM747 188h1v1h-1zM759 188h1v1h-1zM819 188h1v1h-1zM897 188h1v1h-1zM1017 188h1v1h-1zM1117 188h1v1h-1zM1129 188h1v1h-1zM1167 188h1v1h-1zM1185 188h1v1h-1zM1242 188h1v1h-1zM51 189h1v1h-1zM159 189h1v1h-1zM182 189h1v1h-1zM277 189h1v1h-1zM330 189h1v1h-1zM396 189h1v1h-1zM474 189h1v1h-1zM540 189h1v1h-1zM594 189h1v1h-1zM692 189h1v1h-1zM708 189h1v1h-1zM747 189h1v1h-1zM759 189h1v1h-1zM819 189h1v1h-1zM897 189h1v1h-1zM963 189h1v1h-1zM1017 189h1v1h-1zM1117 189h1v1h-1zM1129 189h1v1h-1zM1167 189h1v1h-1zM1185 189h1v1h-1zM1242 189h1v1h-1zM51 190h1v1h-1zM159 190h1v1h-1zM182 190h1v1h-1zM265 190h25v1h-25zM330 190h1v1h-1zM396 190h1v1h-1zM474 190h1v1h-1zM540 190h1v1h-1zM594 190h1v1h-1zM691 190h1v1h-1zM709 190h1v1h-1zM746 190h1v1h-1zM760 190h1v1h-1zM819 190h1v1h-1zM897 190h1v1h-1zM963 190h1v1h-1zM1017 190h1v1h-1zM1117 190h1v1h-1zM1129 190h1v1h-1zM1167 190h1v1h-1zM1185 190h1v1h-1zM1242 190h1v1h-1zM51 191h1v1h-1zM159 191h1v1h-1zM182 191h1v1h-1zM265 191h1v1h-1zM289 191h1v1h-1zM330 191h1v1h-1zM396 191h1v1h-1zM474 191h1v1h-1zM540 191h1v1h-1zM691 191h1v1h-1zM709 191h1v1h-1zM746 191h1v1h-1zM760 191h1v1h-1zM819 191h1v1h-1zM897 191h1v1h-1zM963 191h1v1h-1zM1117 191h1v1h-1zM1129 191h1v1h-1zM1166 191h1v1h-1zM1186 191h1v1h-1zM1242 191h1v1h-1zM51 192h1v1h-1zM159 192h1v1h-1zM182 192h1v1h-1zM265 192h1v1h-1zM289 192h1v1h-1zM330 192h1v1h-1zM396 192h1v1h-1zM474 192h1v1h-1zM540 192h1v1h-1zM691 192h1v1h-1zM709 192h1v1h-1zM746 192h1v1h-1zM760 192h1v1h-1zM819 192h1v1h-1zM897 192h1v1h-1zM963 192h1v1h-1zM1117 192h1v1h-1zM1129 192h1v1h-1zM1166 192h1v1h-1zM1186 192h1v1h-1zM1242 192h1v1h-1zM51 193h1v1h-1zM159 193h1v1h-1zM182 193h1v1h-1zM265 193h1v1h-1zM289 193h1v1h-1zM330 193h1v1h-1zM396 193h1v1h-1zM474 193h1v1h-1zM540 193h1v1h-1zM690 193h1v1h-1zM710 193h1v1h-1zM746 193h1v1h-1zM760 193h1v1h-1zM819 193h1v1h-1zM897 193h1v1h-1zM963 193h1v1h-1zM1117 193h1v1h-1zM1129 193h1v1h-1zM1166 193h1v1h-1zM1186 193h1v1h-1zM1242 193h1v1h-1zM51 194h1v1h-1zM159 194h1v1h-1zM182 194h1v1h-1zM265 194h1v1h-1zM289 194h1v1h-1zM396 194h1v1h-1zM474 194h1v1h-1zM594 194h1v1h-1zM690 194h1v1h-1zM710 194h1v1h-1zM745 194h1v1h-1zM761 194h1v1h-1zM819 194h1v1h-1zM897 194h1v1h-1zM1017 194h1v1h-1zM1117 194h1v1h-1zM1129 194h1v1h-1zM1165 194h1v1h-1zM1187 194h1v1h-1zM1242 194h1v1h-1zM51 195h1v1h-1zM160 195h1v1h-1zM181 195h1v1h-1zM265 195h1v1h-1zM289 195h1v1h-1zM396 195h1v1h-1zM474 195h1v1h-1zM594 195h1v1h-1zM690 195h1v1h-1zM710 195h1v1h-1zM745 195h1v1h-1zM761 195h1v1h-1zM819 195h1v1h-1zM897 195h1v1h-1zM1017 195h1v1h-1zM1117 195h1v1h-1zM1129 195h1v1h-1zM1165 195h1v1h-1zM1187 195h1v1h-1zM1242 195h1v1h-1zM51 196h1v1h-1zM111 196h13v1h-13zM161 196h1v1h-1zM180 196h1v1h-1zM265 196h1v1h-1zM289 196h1v1h-1zM396 196h1v1h-1zM474 196h1v1h-1zM594 196h1v1h-1zM690 196h1v1h-1zM710 196h1v1h-1zM745 196h1v1h-1zM761 196h1v1h-1zM819 196h1v1h-1zM897 196h1v1h-1zM1017 196h1v1h-1zM1117 196h1v1h-1zM1129 196h1v1h-1zM1164 196h1v1h-1zM1188 196h1v1h-1zM1242 196h1v1h-1zM51 197h1v1h-1zM117 197h1v1h-1zM161 197h1v1h-1zM180 197h1v1h-1zM265 197h1v1h-1zM289 197h1v1h-1zM330 197h1v1h-1zM396 197h1v1h-1zM474 197h1v1h-1zM540 197h1v1h-1zM582 197h24v1h-24zM689 197h1v1h-1zM711 197h1v1h-1zM745 197h1v1h-1zM761 197h1v1h-1zM819 197h1v1h-1zM897 197h1v1h-1zM963 197h1v1h-1zM1017 197h1v1h-1zM1116 197h1v1h-1zM1130 197h1v1h-1zM1164 197h1v1h-1zM1188 197h1v1h-1zM1242 197h1v1h-1zM51 198h1v1h-1zM117 198h1v1h-1zM162 198h1v1h-1zM179 198h1v1h-1zM265 198h1v1h-1zM289 198h1v1h-1zM330 198h1v1h-1zM396 198h1v1h-1zM474 198h1v1h-1zM540 198h1v1h-1zM582 198h1v1h-1zM605 198h1v1h-1zM689 198h1v1h-1zM711 198h1v1h-1zM744 198h1v1h-1zM762 198h1v1h-1zM819 198h1v1h-1zM897 198h1v1h-1zM963 198h1v1h-1zM1017 198h1v1h-1zM1116 198h1v1h-1zM1130 198h1v1h-1zM1164 198h1v1h-1zM1188 198h1v1h-1zM1242 198h1v1h-1zM51 199h1v1h-1zM117 199h1v1h-1zM162 199h1v1h-1zM179 199h1v1h-1zM265 199h1v1h-1zM289 199h1v1h-1zM330 199h1v1h-1zM396 199h1v1h-1zM474 199h1v1h-1zM540 199h1v1h-1zM582 199h1v1h-1zM605 199h1v1h-1zM689 199h1v1h-1zM711 199h1v1h-1zM744 199h1v1h-1zM762 199h1v1h-1zM819 199h1v1h-1zM897 199h1v1h-1zM963 199h1v1h-1zM1005 199h24v1h-24zM1116 199h1v1h-1zM1130 199h1v1h-1zM1164 199h1v1h-1zM1188 199h1v1h-1zM1242 199h1v1h-1zM51 200h1v1h-1zM117 200h1v1h-1zM163 200h1v1h-1zM178 200h1v1h-1zM266 200h1v1h-1zM288 200h1v1h-1zM330 200h1v1h-1zM396 200h1v1h-1zM474 200h1v1h-1zM540 200h1v1h-1zM582 200h1v1h-1zM605 200h1v1h-1zM688 200h1v1h-1zM712 200h1v1h-1zM744 200h1v1h-1zM762 200h1v1h-1zM819 200h1v1h-1zM897 200h1v1h-1zM963 200h1v1h-1zM1005 200h1v1h-1zM1028 200h1v1h-1zM1116 200h1v1h-1zM1130 200h1v1h-1zM1164 200h1v1h-1zM1188 200h1v1h-1zM1242 200h1v1h-1zM51 201h1v1h-1zM164 201h1v1h-1zM177 201h1v1h-1zM266 201h1v1h-1zM288 201h1v1h-1zM324 201h13v1h-13zM396 201h1v1h-1zM474 201h1v1h-1zM540 201h1v1h-1zM582 201h1v1h-1zM605 201h1v1h-1zM688 201h1v1h-1zM712 201h1v1h-1zM744 201h1v1h-1zM762 201h1v1h-1zM819 201h1v1h-1zM897 201h1v1h-1zM963 201h1v1h-1zM1005 201h1v1h-1zM1028 201h1v1h-1zM1115 201h1v1h-1zM1131 201h1v1h-1zM1164 201h1v1h-1zM1188 201h1v1h-1zM1242 201h1v1h-1zM51 202h1v1h-1zM164 202h1v1h-1zM177 202h1v1h-1zM266 202h1v1h-1zM288 202h1v1h-1zM396 202h1v1h-1zM474 202h1v1h-1zM582 202h1v1h-1zM605 202h1v1h-1zM688 202h1v1h-1zM712 202h1v1h-1zM743 202h1v1h-1zM763 202h1v1h-1zM819 202h1v1h-1zM897 202h1v1h-1zM1005 202h1v1h-1zM1028 202h1v1h-1zM1115 202h1v1h-1zM1131 202h1v1h-1zM1164 202h1v1h-1zM1188 202h1v1h-1zM1242 202h1v1h-1zM51 203h1v1h-1zM165 203h1v1h-1zM176 203h1v1h-1zM267 203h1v1h-1zM287 203h1v1h-1zM396 203h1v1h-1zM474 203h1v1h-1zM582 203h1v1h-1zM605 203h1v1h-1zM688 203h1v1h-1zM712 203h1v1h-1zM743 203h1v1h-1zM763 203h1v1h-1zM819 203h1v1h-1zM897 203h1v1h-1zM951 203h25v1h-25zM1005 203h1v1h-1zM1028 203h1v1h-1zM1115 203h1v1h-1zM1131 203h1v1h-1zM1164 203h1v1h-1zM1188 203h1v1h-1zM1242 203h1v1h-1zM51 204h1v1h-1zM117 204h1v1h-1zM165 204h1v1h-1zM176 204h1v1h-1zM267 204h1v1h-1zM287 204h1v1h-1zM396 204h1v1h-1zM474 204h1v1h-1zM582 204h1v1h-1zM605 204h1v1h-1zM688 204h1v1h-1zM712 204h1v1h-1zM743 204h1v1h-1zM763 204h1v1h-1zM819 204h1v1h-1zM897 204h1v1h-1zM951 204h1v1h-1zM975 204h1v1h-1zM1005 204h1v1h-1zM1028 204h1v1h-1zM1115 204h1v1h-1zM1131 204h1v1h-1zM1164 204h1v1h-1zM1188 204h1v1h-1zM1242 204h1v1h-1zM51 205h1v1h-1zM117 205h1v1h-1zM165 205h1v1h-1zM176 205h1v1h-1zM267 205h1v1h-1zM287 205h1v1h-1zM396 205h1v1h-1zM474 205h1v1h-1zM528 205h25v1h-25zM582 205h1v1h-1zM605 205h1v1h-1zM688 205h1v1h-1zM712 205h1v1h-1zM743 205h1v1h-1zM763 205h1v1h-1zM819 205h1v1h-1zM897 205h1v1h-1zM951 205h1v1h-1zM975 205h1v1h-1zM1005 205h1v1h-1zM1028 205h1v1h-1zM1114 205h1v1h-1zM1132 205h1v1h-1zM1164 205h1v1h-1zM1188 205h1v1h-1zM1242 205h1v1h-1zM51 206h1v1h-1zM117 206h1v1h-1zM164 206h1v1h-1zM177 206h1v1h-1zM268 206h1v1h-1zM286 206h1v1h-1zM396 206h1v1h-1zM474 206h1v1h-1zM528 206h1v1h-1zM552 206h1v1h-1zM582 206h1v1h-1zM605 206h1v1h-1zM688 206h1v1h-1zM712 206h1v1h-1zM742 206h1v1h-1zM764 206h1v1h-1zM819 206h1v1h-1zM897 206h1v1h-1zM951 206h1v1h-1zM975 206h1v1h-1zM1005 206h1v1h-1zM1028 206h1v1h-1zM1114 206h1v1h-1zM1132 206h1v1h-1zM1164 206h1v1h-1zM1188 206h1v1h-1zM1242 206h1v1h-1zM51 207h1v1h-1zM117 207h1v1h-1zM164 207h1v1h-1zM177 207h1v1h-1zM268 207h1v1h-1zM286 207h1v1h-1zM396 207h1v1h-1zM474 207h1v1h-1zM528 207h1v1h-1zM552 207h1v1h-1zM582 207h1v1h-1zM605 207h1v1h-1zM688 207h1v1h-1zM712 207h1v1h-1zM742 207h1v1h-1zM764 207h1v1h-1zM819 207h1v1h-1zM897 207h1v1h-1zM951 207h1v1h-1zM975 207h1v1h-1zM1005 207h1v1h-1zM1028 207h1v1h-1zM1114 207h1v1h-1zM1132 207h1v1h-1zM1164 207h1v1h-1zM1188 207h1v1h-1zM1242 207h1v1h-1zM51 208h1v1h-1zM117 208h1v1h-1zM163 208h1v1h-1zM178 208h1v1h-1zM268 208h1v1h-1zM286 208h1v1h-1zM396 208h1v1h-1zM474 208h1v1h-1zM528 208h1v1h-1zM552 208h1v1h-1zM582 208h1v1h-1zM605 208h1v1h-1zM688 208h1v1h-1zM712 208h1v1h-1zM742 208h1v1h-1zM764 208h1v1h-1zM819 208h1v1h-1zM897 208h1v1h-1zM951 208h1v1h-1zM975 208h1v1h-1zM1005 208h1v1h-1zM1028 208h1v1h-1zM1114 208h1v1h-1zM1132 208h1v1h-1zM1164 208h1v1h-1zM1188 208h1v1h-1zM1242 208h1v1h-1zM51 209h1v1h-1zM162 209h1v1h-1zM179 209h1v1h-1zM269 209h1v1h-1zM285 209h1v1h-1zM396 209h1v1h-1zM474 209h1v1h-1zM528 209h1v1h-1zM552 209h1v1h-1zM582 209h1v1h-1zM605 209h1v1h-1zM688 209h1v1h-1zM712 209h1v1h-1zM741 209h1v1h-1zM765 209h1v1h-1zM819 209h1v1h-1zM897 209h1v1h-1zM951 209h1v1h-1zM975 209h1v1h-1zM1005 209h1v1h-1zM1028 209h1v1h-1zM1113 209h1v1h-1zM1133 209h1v1h-1zM1164 209h1v1h-1zM1188 209h1v1h-1zM1242 209h1v1h-1zM51 210h1v1h-1zM162 210h1v1h-1zM179 210h1v1h-1zM269 210h1v1h-1zM285 210h1v1h-1zM396 210h1v1h-1zM474 210h1v1h-1zM528 210h1v1h-1zM552 210h1v1h-1zM582 210h1v1h-1zM605 210h1v1h-1zM688 210h1v1h-1zM712 210h1v1h-1zM741 210h1v1h-1zM765 210h1v1h-1zM819 210h1v1h-1zM897 210h1v1h-1zM951 210h1v1h-1zM975 210h1v1h-1zM1005 210h1v1h-1zM1028 210h1v1h-1zM1113 210h1v1h-1zM1133 210h1v1h-1zM1164 210h1v1h-1zM1188 210h1v1h-1zM1242 210h1v1h-1zM51 211h1v1h-1zM161 211h1v1h-1zM180 211h1v1h-1zM269 211h1v1h-1zM285 211h1v1h-1zM396 211h1v1h-1zM474 211h1v1h-1zM528 211h1v1h-1zM552 211h1v1h-1zM583 211h1v1h-1zM604 211h1v1h-1zM688 211h1v1h-1zM712 211h1v1h-1zM741 211h1v1h-1zM765 211h1v1h-1zM819 211h1v1h-1zM897 211h1v1h-1zM951 211h1v1h-1zM975 211h1v1h-1zM1006 211h1v1h-1zM1027 211h1v1h-1zM1113 211h1v1h-1zM1133 211h1v1h-1zM1164 211h25v1h-25zM1242 211h1v1h-1zM51 212h1v1h-1zM117 212h1v1h-1zM161 212h1v1h-1zM180 212h1v1h-1zM270 212h1v1h-1zM284 212h1v1h-1zM396 212h1v1h-1zM474 212h1v1h-1zM528 212h1v1h-1zM552 212h1v1h-1zM584 212h1v1h-1zM603 212h1v1h-1zM688 212h1v1h-1zM712 212h1v1h-1zM741 212h1v1h-1zM765 212h1v1h-1zM819 212h1v1h-1zM897 212h1v1h-1zM951 212h1v1h-1zM975 212h1v1h-1zM1006 212h1v1h-1zM1027 212h1v1h-1zM1113 212h1v1h-1zM1133 212h1v1h-1zM1176 212h1v1h-1zM1242 212h1v1h-1zM51 213h1v1h-1zM117 213h1v1h-1zM160 213h1v1h-1zM181 213h1v1h-1zM270 213h1v1h-1zM284 213h1v1h-1zM396 213h1v1h-1zM474 213h1v1h-1zM529 213h1v1h-1zM551 213h1v1h-1zM584 213h1v1h-1zM603 213h1v1h-1zM688 213h1v1h-1zM712 213h1v1h-1zM741 213h1v1h-1zM765 213h1v1h-1zM819 213h1v1h-1zM897 213h1v1h-1zM951 213h1v1h-1zM975 213h1v1h-1zM1007 213h1v1h-1zM1026 213h1v1h-1zM1112 213h1v1h-1zM1134 213h1v1h-1zM1176 213h1v1h-1zM1242 213h1v1h-1zM51 214h1v1h-1zM117 214h1v1h-1zM159 214h1v1h-1zM182 214h1v1h-1zM270 214h1v1h-1zM284 214h1v1h-1zM396 214h1v1h-1zM474 214h1v1h-1zM529 214h1v1h-1zM551 214h1v1h-1zM585 214h1v1h-1zM602 214h1v1h-1zM688 214h1v1h-1zM712 214h1v1h-1zM741 214h1v1h-1zM765 214h1v1h-1zM819 214h1v1h-1zM897 214h1v1h-1zM951 214h1v1h-1zM975 214h1v1h-1zM1007 214h1v1h-1zM1026 214h1v1h-1zM1112 214h1v1h-1zM1134 214h1v1h-1zM1242 214h1v1h-1zM51 215h1v1h-1zM117 215h1v1h-1zM159 215h1v1h-1zM182 215h1v1h-1zM271 215h1v1h-1zM283 215h1v1h-1zM396 215h1v1h-1zM474 215h1v1h-1zM530 215h1v1h-1zM550 215h1v1h-1zM585 215h1v1h-1zM602 215h1v1h-1zM688 215h1v1h-1zM712 215h1v1h-1zM741 215h1v1h-1zM765 215h1v1h-1zM819 215h1v1h-1zM897 215h1v1h-1zM951 215h1v1h-1zM975 215h1v1h-1zM1008 215h1v1h-1zM1025 215h1v1h-1zM1112 215h1v1h-1zM1134 215h1v1h-1zM1242 215h1v1h-1zM51 216h1v1h-1zM117 216h1v1h-1zM159 216h1v1h-1zM182 216h1v1h-1zM271 216h1v1h-1zM283 216h1v1h-1zM396 216h1v1h-1zM474 216h1v1h-1zM530 216h1v1h-1zM550 216h1v1h-1zM586 216h1v1h-1zM601 216h1v1h-1zM688 216h1v1h-1zM712 216h1v1h-1zM741 216h1v1h-1zM765 216h1v1h-1zM819 216h1v1h-1zM897 216h1v1h-1zM952 216h1v1h-1zM974 216h1v1h-1zM1008 216h1v1h-1zM1025 216h1v1h-1zM1112 216h1v1h-1zM1134 216h1v1h-1zM1242 216h1v1h-1zM51 217h1v1h-1zM159 217h1v1h-1zM182 217h1v1h-1zM271 217h1v1h-1zM283 217h1v1h-1zM396 217h1v1h-1zM474 217h1v1h-1zM531 217h1v1h-1zM549 217h1v1h-1zM586 217h1v1h-1zM601 217h1v1h-1zM688 217h1v1h-1zM712 217h1v1h-1zM741 217h1v1h-1zM765 217h1v1h-1zM819 217h1v1h-1zM897 217h1v1h-1zM952 217h1v1h-1zM974 217h1v1h-1zM1009 217h1v1h-1zM1024 217h1v1h-1zM1111 217h1v1h-1zM1135 217h1v1h-1zM1176 217h1v1h-1zM1242 217h1v1h-1zM51 218h1v1h-1zM159 218h1v1h-1zM182 218h1v1h-1zM271 218h1v1h-1zM283 218h1v1h-1zM396 218h1v1h-1zM474 218h1v1h-1zM531 218h1v1h-1zM549 218h1v1h-1zM587 218h1v1h-1zM600 218h1v1h-1zM688 218h1v1h-1zM712 218h1v1h-1zM741 218h1v1h-1zM765 218h1v1h-1zM819 218h1v1h-1zM897 218h1v1h-1zM953 218h1v1h-1zM973 218h1v1h-1zM1009 218h1v1h-1zM1024 218h1v1h-1zM1111 218h1v1h-1zM1135 218h1v1h-1zM1176 218h1v1h-1zM1242 218h1v1h-1zM51 219h1v1h-1zM159 219h24v1h-24zM271 219h1v1h-1zM283 219h1v1h-1zM396 219h1v1h-1zM474 219h1v1h-1zM532 219h1v1h-1zM548 219h1v1h-1zM587 219h1v1h-1zM600 219h1v1h-1zM688 219h1v1h-1zM712 219h1v1h-1zM741 219h1v1h-1zM765 219h1v1h-1zM819 219h1v1h-1zM897 219h1v1h-1zM953 219h1v1h-1zM973 219h1v1h-1zM1010 219h1v1h-1zM1023 219h1v1h-1zM1111 219h1v1h-1zM1135 219h1v1h-1zM1176 219h1v1h-1zM1242 219h1v1h-1zM51 220h1v1h-1zM117 220h1v1h-1zM271 220h1v1h-1zM283 220h1v1h-1zM396 220h1v1h-1zM474 220h1v1h-1zM532 220h1v1h-1zM548 220h1v1h-1zM588 220h1v1h-1zM599 220h1v1h-1zM688 220h1v1h-1zM712 220h1v1h-1zM741 220h1v1h-1zM765 220h1v1h-1zM819 220h1v1h-1zM897 220h1v1h-1zM954 220h1v1h-1zM972 220h1v1h-1zM1010 220h1v1h-1zM1023 220h1v1h-1zM1111 220h1v1h-1zM1135 220h1v1h-1zM1176 220h1v1h-1zM1242 220h1v1h-1zM51 221h1v1h-1zM117 221h1v1h-1zM171 221h1v1h-1zM271 221h1v1h-1zM283 221h1v1h-1zM396 221h1v1h-1zM474 221h1v1h-1zM533 221h1v1h-1zM547 221h1v1h-1zM588 221h1v1h-1zM599 221h1v1h-1zM688 221h1v1h-1zM712 221h1v1h-1zM741 221h1v1h-1zM765 221h1v1h-1zM819 221h1v1h-1zM897 221h1v1h-1zM954 221h1v1h-1zM972 221h1v1h-1zM1011 221h1v1h-1zM1022 221h1v1h-1zM1111 221h1v1h-1zM1135 221h1v1h-1zM1176 221h1v1h-1zM1242 221h1v1h-1zM51 222h1v1h-1zM117 222h1v1h-1zM171 222h1v1h-1zM270 222h1v1h-1zM284 222h1v1h-1zM396 222h1v1h-1zM474 222h1v1h-1zM533 222h1v1h-1zM547 222h1v1h-1zM588 222h1v1h-1zM599 222h1v1h-1zM688 222h1v1h-1zM712 222h1v1h-1zM741 222h1v1h-1zM765 222h1v1h-1zM819 222h1v1h-1zM897 222h1v1h-1zM955 222h1v1h-1zM971 222h1v1h-1zM1011 222h1v1h-1zM1022 222h1v1h-1zM1111 222h1v1h-1zM1135 222h1v1h-1zM1242 222h1v1h-1zM51 223h1v1h-1zM117 223h1v1h-1zM171 223h1v1h-1zM270 223h1v1h-1zM284 223h1v1h-1zM396 223h1v1h-1zM474 223h1v1h-1zM534 223h1v1h-1zM546 223h1v1h-1zM587 223h1v1h-1zM600 223h1v1h-1zM688 223h1v1h-1zM712 223h1v1h-1zM741 223h1v1h-1zM765 223h1v1h-1zM819 223h1v1h-1zM897 223h1v1h-1zM955 223h1v1h-1zM971 223h1v1h-1zM1011 223h1v1h-1zM1022 223h1v1h-1zM1111 223h1v1h-1zM1135 223h1v1h-1zM1242 223h1v1h-1zM51 224h1v1h-1zM105 224h25v1h-25zM171 224h1v1h-1zM270 224h1v1h-1zM284 224h1v1h-1zM396 224h1v1h-1zM474 224h1v1h-1zM534 224h1v1h-1zM546 224h1v1h-1zM587 224h1v1h-1zM600 224h1v1h-1zM688 224h25v1h-25zM741 224h1v1h-1zM765 224h1v1h-1zM819 224h1v1h-1zM897 224h1v1h-1zM956 224h1v1h-1zM970 224h1v1h-1zM1010 224h1v1h-1zM1023 224h1v1h-1zM1111 224h1v1h-1zM1135 224h1v1h-1zM1242 224h1v1h-1zM51 225h1v1h-1zM105 225h1v1h-1zM129 225h1v1h-1zM171 225h1v1h-1zM269 225h1v1h-1zM285 225h1v1h-1zM396 225h1v1h-1zM474 225h1v1h-1zM534 225h1v1h-1zM546 225h1v1h-1zM586 225h1v1h-1zM601 225h1v1h-1zM700 225h1v1h-1zM741 225h25v1h-25zM819 225h1v1h-1zM897 225h1v1h-1zM956 225h1v1h-1zM970 225h1v1h-1zM1010 225h1v1h-1zM1023 225h1v1h-1zM1111 225h1v1h-1zM1135 225h1v1h-1zM1176 225h1v1h-1zM1242 225h1v1h-1zM51 226h1v1h-1zM105 226h1v1h-1zM129 226h1v1h-1zM269 226h1v1h-1zM285 226h1v1h-1zM396 226h1v1h-1zM474 226h1v1h-1zM534 226h1v1h-1zM546 226h1v1h-1zM586 226h1v1h-1zM601 226h1v1h-1zM700 226h1v1h-1zM753 226h1v1h-1zM819 226h1v1h-1zM897 226h1v1h-1zM957 226h1v1h-1zM969 226h1v1h-1zM1009 226h1v1h-1zM1024 226h1v1h-1zM1111 226h1v1h-1zM1135 226h1v1h-1zM1176 226h1v1h-1zM1242 226h1v1h-1zM51 227h1v1h-1zM106 227h1v1h-1zM128 227h1v1h-1zM269 227h1v1h-1zM285 227h1v1h-1zM396 227h1v1h-1zM474 227h1v1h-1zM534 227h1v1h-1zM546 227h1v1h-1zM585 227h1v1h-1zM602 227h1v1h-1zM753 227h1v1h-1zM819 227h1v1h-1zM897 227h1v1h-1zM957 227h1v1h-1zM969 227h1v1h-1zM1009 227h1v1h-1zM1024 227h1v1h-1zM1111 227h1v1h-1zM1135 227h1v1h-1zM1176 227h1v1h-1zM1242 227h1v1h-1zM51 228h1v1h-1zM107 228h1v1h-1zM127 228h1v1h-1zM268 228h1v1h-1zM286 228h1v1h-1zM396 228h1v1h-1zM474 228h1v1h-1zM533 228h1v1h-1zM547 228h1v1h-1zM585 228h1v1h-1zM602 228h1v1h-1zM753 228h1v1h-1zM819 228h1v1h-1zM897 228h1v1h-1zM957 228h1v1h-1zM969 228h1v1h-1zM1008 228h1v1h-1zM1025 228h1v1h-1zM1111 228h1v1h-1zM1135 228h1v1h-1zM1176 228h1v1h-1zM1242 228h1v1h-1zM51 229h1v1h-1zM107 229h1v1h-1zM127 229h1v1h-1zM171 229h1v1h-1zM268 229h1v1h-1zM286 229h1v1h-1zM396 229h1v1h-1zM474 229h1v1h-1zM533 229h1v1h-1zM547 229h1v1h-1zM584 229h1v1h-1zM603 229h1v1h-1zM753 229h1v1h-1zM819 229h1v1h-1zM897 229h1v1h-1zM956 229h1v1h-1zM970 229h1v1h-1zM1008 229h1v1h-1zM1025 229h1v1h-1zM1111 229h1v1h-1zM1135 229h1v1h-1zM1176 229h1v1h-1zM1242 229h1v1h-1zM51 230h1v1h-1zM108 230h1v1h-1zM126 230h1v1h-1zM171 230h1v1h-1zM268 230h1v1h-1zM286 230h1v1h-1zM396 230h1v1h-1zM474 230h1v1h-1zM532 230h1v1h-1zM548 230h1v1h-1zM584 230h1v1h-1zM603 230h1v1h-1zM700 230h1v1h-1zM819 230h1v1h-1zM897 230h1v1h-1zM956 230h1v1h-1zM970 230h1v1h-1zM1007 230h1v1h-1zM1026 230h1v1h-1zM1111 230h1v1h-1zM1135 230h1v1h-1zM1242 230h1v1h-1zM51 231h1v1h-1zM109 231h1v1h-1zM125 231h1v1h-1zM171 231h1v1h-1zM267 231h1v1h-1zM287 231h1v1h-1zM396 231h1v1h-1zM474 231h1v1h-1zM532 231h1v1h-1zM548 231h1v1h-1zM583 231h1v1h-1zM604 231h1v1h-1zM700 231h1v1h-1zM819 231h1v1h-1zM897 231h1v1h-1zM955 231h1v1h-1zM971 231h1v1h-1zM1007 231h1v1h-1zM1026 231h1v1h-1zM1111 231h1v1h-1zM1135 231h1v1h-1zM1242 231h1v1h-1zM51 232h1v1h-1zM109 232h1v1h-1zM125 232h1v1h-1zM171 232h1v1h-1zM267 232h1v1h-1zM287 232h1v1h-1zM396 232h1v1h-1zM474 232h1v1h-1zM531 232h1v1h-1zM549 232h1v1h-1zM582 232h24v1h-24zM700 232h1v1h-1zM819 232h1v1h-1zM897 232h1v1h-1zM955 232h1v1h-1zM971 232h1v1h-1zM1006 232h1v1h-1zM1027 232h1v1h-1zM1111 232h1v1h-1zM1135 232h1v1h-1zM1242 232h1v1h-1zM51 233h1v1h-1zM110 233h1v1h-1zM124 233h1v1h-1zM171 233h1v1h-1zM267 233h1v1h-1zM287 233h1v1h-1zM396 233h1v1h-1zM474 233h1v1h-1zM531 233h1v1h-1zM549 233h1v1h-1zM594 233h1v1h-1zM700 233h1v1h-1zM753 233h1v1h-1zM819 233h1v1h-1zM897 233h1v1h-1zM954 233h1v1h-1zM972 233h1v1h-1zM1005 233h1v1h-1zM1028 233h1v1h-1zM1111 233h25v1h-25zM1176 233h1v1h-1zM1242 233h1v1h-1zM51 234h1v1h-1zM111 234h1v1h-1zM123 234h1v1h-1zM266 234h1v1h-1zM288 234h1v1h-1zM396 234h1v1h-1zM474 234h1v1h-1zM530 234h1v1h-1zM550 234h1v1h-1zM594 234h1v1h-1zM700 234h1v1h-1zM753 234h1v1h-1zM819 234h1v1h-1zM897 234h1v1h-1zM954 234h1v1h-1zM972 234h1v1h-1zM1005 234h1v1h-1zM1028 234h1v1h-1zM1176 234h1v1h-1zM1242 234h1v1h-1zM51 235h1v1h-1zM111 235h1v1h-1zM123 235h1v1h-1zM266 235h1v1h-1zM288 235h1v1h-1zM396 235h1v1h-1zM474 235h1v1h-1zM530 235h1v1h-1zM550 235h1v1h-1zM594 235h1v1h-1zM753 235h1v1h-1zM819 235h1v1h-1zM897 235h1v1h-1zM953 235h1v1h-1zM973 235h1v1h-1zM1005 235h1v1h-1zM1028 235h1v1h-1zM1176 235h1v1h-1zM1242 235h1v1h-1zM51 236h1v1h-1zM111 236h1v1h-1zM123 236h1v1h-1zM266 236h1v1h-1zM288 236h1v1h-1zM396 236h1v1h-1zM474 236h1v1h-1zM529 236h1v1h-1zM551 236h1v1h-1zM753 236h1v1h-1zM819 236h1v1h-1zM897 236h1v1h-1zM953 236h1v1h-1zM973 236h1v1h-1zM1005 236h1v1h-1zM1028 236h1v1h-1zM1176 236h1v1h-1zM1242 236h1v1h-1zM51 237h1v1h-1zM110 237h1v1h-1zM124 237h1v1h-1zM171 237h1v1h-1zM265 237h1v1h-1zM289 237h1v1h-1zM396 237h1v1h-1zM474 237h1v1h-1zM529 237h1v1h-1zM551 237h1v1h-1zM753 237h1v1h-1zM819 237h1v1h-1zM897 237h1v1h-1zM952 237h1v1h-1zM974 237h1v1h-1zM1005 237h1v1h-1zM1028 237h1v1h-1zM1123 237h1v1h-1zM1176 237h1v1h-1zM1242 237h1v1h-1zM51 238h1v1h-1zM109 238h1v1h-1zM125 238h1v1h-1zM171 238h1v1h-1zM265 238h1v1h-1zM289 238h1v1h-1zM396 238h1v1h-1zM474 238h1v1h-1zM528 238h1v1h-1zM552 238h1v1h-1zM700 238h1v1h-1zM819 238h1v1h-1zM897 238h1v1h-1zM952 238h1v1h-1zM974 238h1v1h-1zM1005 238h1v1h-1zM1028 238h1v1h-1zM1123 238h1v1h-1zM1242 238h1v1h-1zM51 239h1v1h-1zM108 239h1v1h-1zM126 239h1v1h-1zM171 239h1v1h-1zM265 239h1v1h-1zM289 239h1v1h-1zM396 239h1v1h-1zM474 239h1v1h-1zM528 239h1v1h-1zM552 239h1v1h-1zM594 239h1v1h-1zM700 239h1v1h-1zM819 239h1v1h-1zM897 239h1v1h-1zM951 239h1v1h-1zM975 239h1v1h-1zM1005 239h24v1h-24zM1123 239h1v1h-1zM1242 239h1v1h-1zM51 240h1v1h-1zM108 240h1v1h-1zM126 240h1v1h-1zM171 240h1v1h-1zM265 240h1v1h-1zM289 240h1v1h-1zM396 240h1v1h-1zM474 240h1v1h-1zM528 240h1v1h-1zM552 240h1v1h-1zM594 240h1v1h-1zM700 240h1v1h-1zM819 240h1v1h-1zM897 240h1v1h-1zM951 240h1v1h-1zM975 240h1v1h-1zM1123 240h1v1h-1zM1242 240h1v1h-1zM51 241h1v1h-1zM107 241h1v1h-1zM127 241h1v1h-1zM171 241h1v1h-1zM265 241h1v1h-1zM289 241h1v1h-1zM396 241h1v1h-1zM474 241h1v1h-1zM528 241h1v1h-1zM552 241h1v1h-1zM594 241h1v1h-1zM700 241h1v1h-1zM753 241h1v1h-1zM819 241h1v1h-1zM897 241h1v1h-1zM951 241h1v1h-1zM975 241h1v1h-1zM1017 241h1v1h-1zM1123 241h1v1h-1zM1176 241h1v1h-1zM1242 241h1v1h-1zM51 242h1v1h-1zM106 242h1v1h-1zM128 242h1v1h-1zM265 242h1v1h-1zM289 242h1v1h-1zM396 242h1v1h-1zM474 242h1v1h-1zM528 242h1v1h-1zM552 242h1v1h-1zM594 242h1v1h-1zM700 242h1v1h-1zM753 242h1v1h-1zM819 242h1v1h-1zM897 242h1v1h-1zM951 242h1v1h-1zM975 242h1v1h-1zM1017 242h1v1h-1zM1176 242h1v1h-1zM1242 242h1v1h-1zM51 243h1v1h-1zM105 243h1v1h-1zM129 243h1v1h-1zM265 243h1v1h-1zM289 243h1v1h-1zM396 243h1v1h-1zM474 243h1v1h-1zM528 243h1v1h-1zM552 243h1v1h-1zM588 243h12v1h-12zM753 243h1v1h-1zM819 243h1v1h-1zM897 243h1v1h-1zM951 243h25v1h-25zM1017 243h1v1h-1zM1176 243h1v1h-1zM1242 243h1v1h-1zM51 244h1v1h-1zM105 244h1v1h-1zM129 244h1v1h-1zM265 244h1v1h-1zM289 244h1v1h-1zM396 244h1v1h-1zM474 244h1v1h-1zM528 244h1v1h-1zM552 244h1v1h-1zM753 244h1v1h-1zM819 244h1v1h-1zM897 244h1v1h-1zM963 244h1v1h-1zM1017 244h1v1h-1zM1176 244h1v1h-1zM1242 244h1v1h-1zM51 245h1v1h-1zM105 245h1v1h-1zM129 245h1v1h-1zM171 245h1v1h-1zM265 245h1v1h-1zM289 245h1v1h-1zM396 245h1v1h-1zM474 245h1v1h-1zM528 245h1v1h-1zM552 245h1v1h-1zM753 245h1v1h-1zM819 245h1v1h-1zM897 245h1v1h-1zM1017 245h1v1h-1zM1123 245h1v1h-1zM1176 245h1v1h-1zM1242 245h1v1h-1zM51 246h1v1h-1zM105 246h1v1h-1zM129 246h1v1h-1zM171 246h1v1h-1zM265 246h1v1h-1zM289 246h1v1h-1zM396 246h1v1h-1zM474 246h1v1h-1zM528 246h1v1h-1zM552 246h1v1h-1zM700 246h1v1h-1zM819 246h1v1h-1zM897 246h1v1h-1zM1123 246h1v1h-1zM1242 246h1v1h-1zM51 247h1v1h-1zM105 247h1v1h-1zM129 247h1v1h-1zM171 247h1v1h-1zM265 247h1v1h-1zM289 247h1v1h-1zM330 247h1v1h-1zM396 247h1v1h-1zM474 247h1v1h-1zM528 247h1v1h-1zM552 247h1v1h-1zM700 247h1v1h-1zM819 247h1v1h-1zM897 247h1v1h-1zM1123 247h1v1h-1zM1242 247h1v1h-1zM51 248h1v1h-1zM105 248h1v1h-1zM129 248h1v1h-1zM171 248h1v1h-1zM265 248h1v1h-1zM289 248h1v1h-1zM329 248h1v1h-1zM331 248h1v1h-1zM396 248h1v1h-1zM474 248h1v1h-1zM528 248h1v1h-1zM552 248h1v1h-1zM700 248h1v1h-1zM819 248h1v1h-1zM897 248h1v1h-1zM963 248h1v1h-1zM1123 248h1v1h-1zM1242 248h1v1h-1zM51 249h1v1h-1zM105 249h1v1h-1zM129 249h1v1h-1zM171 249h1v1h-1zM265 249h1v1h-1zM289 249h1v1h-1zM330 249h1v1h-1zM396 249h1v1h-1zM474 249h1v1h-1zM528 249h1v1h-1zM552 249h1v1h-1zM700 249h1v1h-1zM753 249h1v1h-1zM819 249h1v1h-1zM897 249h1v1h-1zM963 249h1v1h-1zM1017 249h1v1h-1zM1123 249h1v1h-1zM1176 249h1v1h-1zM1242 249h1v1h-1zM51 250h1v1h-1zM105 250h1v1h-1zM129 250h1v1h-1zM265 250h25v1h-25zM396 250h1v1h-1zM474 250h1v1h-1zM528 250h25v1h-25zM700 250h1v1h-1zM753 250h1v1h-1zM819 250h1v1h-1zM897 250h1v1h-1zM963 250h1v1h-1zM1017 250h1v1h-1zM1176 250h1v1h-1zM1242 250h1v1h-1zM51 251h1v1h-1zM105 251h25v1h-25zM277 251h1v1h-1zM396 251h1v1h-1zM474 251h1v1h-1zM540 251h1v1h-1zM753 251h1v1h-1zM819 251h1v1h-1zM897 251h1v1h-1zM963 251h1v1h-1zM1017 251h1v1h-1zM1176 251h1v1h-1zM1242 251h1v1h-1zM51 252h1v1h-1zM117 252h1v1h-1zM277 252h1v1h-1zM396 252h1v1h-1zM474 252h1v1h-1zM540 252h1v1h-1zM753 252h1v1h-1zM819 252h1v1h-1zM897 252h1v1h-1zM963 252h1v1h-1zM1017 252h1v1h-1zM1176 252h1v1h-1zM1242 252h1v1h-1zM51 253h1v1h-1zM117 253h1v1h-1zM171 253h1v1h-1zM277 253h1v1h-1zM396 253h1v1h-1zM474 253h1v1h-1zM753 253h1v1h-1zM819 253h1v1h-1zM897 253h1v1h-1zM1017 253h1v1h-1zM1123 253h1v1h-1zM1176 253h1v1h-1zM1242 253h1v1h-1zM51 254h1v1h-1zM171 254h1v1h-1zM396 254h1v1h-1zM474 254h1v1h-1zM700 254h1v1h-1zM819 254h1v1h-1zM897 254h1v1h-1zM1123 254h1v1h-1zM1242 254h1v1h-1zM51 255h1v1h-1zM171 255h1v1h-1zM396 255h1v1h-1zM474 255h1v1h-1zM700 255h1v1h-1zM819 255h1v1h-1zM897 255h1v1h-1zM1123 255h1v1h-1zM1242 255h1v1h-1zM45 256h7v1h-7zM171 256h1v1h-1zM396 256h1v1h-1zM468 256h7v1h-7zM540 256h1v1h-1zM700 256h1v1h-1zM819 256h1v1h-1zM891 256h7v1h-7zM963 256h1v1h-1zM1123 256h1v1h-1zM1242 256h1v1h-1zM51 257h1v1h-1zM117 257h1v1h-1zM165 257h12v1h-12zM277 257h1v1h-1zM396 257h1v1h-1zM474 257h1v1h-1zM540 257h1v1h-1zM700 257h1v1h-1zM753 257h1v1h-1zM819 257h1v1h-1zM897 257h1v1h-1zM963 257h1v1h-1zM1017 257h1v1h-1zM1123 257h1v1h-1zM1176 257h1v1h-1zM1242 257h1v1h-1zM51 258h1v1h-1zM117 258h1v1h-1zM277 258h1v1h-1zM396 258h1v1h-1zM474 258h1v1h-1zM540 258h1v1h-1zM700 258h1v1h-1zM753 258h1v1h-1zM819 258h1v1h-1zM897 258h1v1h-1zM963 258h1v1h-1zM1017 258h1v1h-1zM1176 258h1v1h-1zM1242 258h1v1h-1zM51 259h1v1h-1zM117 259h1v1h-1zM277 259h1v1h-1zM396 259h1v1h-1zM474 259h1v1h-1zM540 259h1v1h-1zM753 259h1v1h-1zM819 259h1v1h-1zM897 259h1v1h-1zM963 259h1v1h-1zM1017 259h1v1h-1zM1176 259h1v1h-1zM1242 259h1v1h-1zM51 260h1v1h-1zM117 260h1v1h-1zM277 260h1v1h-1zM396 260h1v1h-1zM474 260h1v1h-1zM540 260h1v1h-1zM753 260h1v1h-1zM819 260h1v1h-1zM897 260h1v1h-1zM963 260h1v1h-1zM1017 260h1v1h-1zM1176 260h1v1h-1zM1242 260h1v1h-1zM51 261h1v1h-1zM117 261h1v1h-1zM277 261h1v1h-1zM396 261h1v1h-1zM474 261h1v1h-1zM753 261h1v1h-1zM819 261h1v1h-1zM897 261h1v1h-1zM1017 261h1v1h-1zM1123 261h1v1h-1zM1176 261h1v1h-1zM1242 261h1v1h-1zM51 262h1v1h-1zM396 262h1v1h-1zM474 262h1v1h-1zM700 262h1v1h-1zM819 262h1v1h-1zM897 262h1v1h-1zM1123 262h1v1h-1zM1242 262h1v1h-1zM51 263h1v1h-1zM396 263h1v1h-1zM474 263h1v1h-1zM700 263h1v1h-1zM819 263h1v1h-1zM897 263h1v1h-1zM1123 263h1v1h-1zM1242 263h1v1h-1zM51 264h1v1h-1zM396 264h1v1h-1zM474 264h1v1h-1zM540 264h1v1h-1zM700 264h1v1h-1zM819 264h1v1h-1zM897 264h1v1h-1zM963 264h1v1h-1zM1123 264h1v1h-1zM1242 264h1v1h-1zM51 265h1v1h-1zM117 265h1v1h-1zM277 265h1v1h-1zM396 265h1v1h-1zM474 265h1v1h-1zM540 265h1v1h-1zM700 265h1v1h-1zM753 265h1v1h-1zM819 265h1v1h-1zM897 265h1v1h-1zM963 265h1v1h-1zM1017 265h1v1h-1zM1123 265h1v1h-1zM1176 265h1v1h-1zM1242 265h1v1h-1zM51 266h1v1h-1zM117 266h1v1h-1zM277 266h1v1h-1zM396 266h1v1h-1zM474 266h1v1h-1zM540 266h1v1h-1zM700 266h1v1h-1zM753 266h1v1h-1zM819 266h1v1h-1zM897 266h1v1h-1zM963 266h1v1h-1zM1017 266h1v1h-1zM1176 266h1v1h-1zM1242 266h1v1h-1zM51 267h1v1h-1zM117 267h1v1h-1zM277 267h1v1h-1zM396 267h1v1h-1zM474 267h1v1h-1zM540 267h1v1h-1zM753 267h1v1h-1zM819 267h1v1h-1zM897 267h1v1h-1zM963 267h1v1h-1zM1017 267h1v1h-1zM1176 267h1v1h-1zM1242 267h1v1h-1zM51 268h1v1h-1zM117 268h1v1h-1zM277 268h1v1h-1zM396 268h1v1h-1zM474 268h1v1h-1zM534 268h13v1h-13zM753 268h1v1h-1zM819 268h1v1h-1zM897 268h1v1h-1zM957 268h13v1h-13zM1017 268h1v1h-1zM1176 268h1v1h-1zM1242 268h1v1h-1zM51 269h1v1h-1zM117 269h1v1h-1zM277 269h1v1h-1zM396 269h1v1h-1zM474 269h1v1h-1zM753 269h1v1h-1zM819 269h1v1h-1zM897 269h1v1h-1zM1017 269h1v1h-1zM1123 269h1v1h-1zM1176 269h1v1h-1zM1242 269h1v1h-1zM51 270h1v1h-1zM396 270h1v1h-1zM474 270h1v1h-1zM700 270h1v1h-1zM819 270h1v1h-1zM897 270h1v1h-1zM1123 270h1v1h-1zM1242 270h1v1h-1zM51 271h1v1h-1zM396 271h1v1h-1zM474 271h1v1h-1zM700 271h1v1h-1zM819 271h1v1h-1zM897 271h1v1h-1zM1123 271h1v1h-1zM1242 271h1v1h-1zM51 272h1v1h-1zM396 272h1v1h-1zM474 272h1v1h-1zM700 272h1v1h-1zM819 272h1v1h-1zM897 272h1v1h-1zM1123 272h1v1h-1zM1242 272h1v1h-1zM51 273h1v1h-1zM117 273h1v1h-1zM277 273h1v1h-1zM396 273h1v1h-1zM474 273h1v1h-1zM700 273h1v1h-1zM753 273h1v1h-1zM819 273h1v1h-1zM897 273h1v1h-1zM1017 273h1v1h-1zM1123 273h1v1h-1zM1176 273h1v1h-1zM1242 273h1v1h-1zM51 274h1v1h-1zM117 274h1v1h-1zM277 274h1v1h-1zM396 274h1v1h-1zM474 274h1v1h-1zM694 274h13v1h-13zM753 274h1v1h-1zM819 274h1v1h-1zM897 274h1v1h-1zM1017 274h1v1h-1zM1176 274h1v1h-1zM1242 274h1v1h-1zM51 275h1v1h-1zM117 275h1v1h-1zM277 275h1v1h-1zM396 275h1v1h-1zM474 275h1v1h-1zM753 275h1v1h-1zM819 275h1v1h-1zM897 275h1v1h-1zM1017 275h1v1h-1zM1176 275h1v1h-1zM1242 275h1v1h-1zM51 276h1v1h-1zM117 276h1v1h-1zM277 276h1v1h-1zM396 276h1v1h-1zM474 276h1v1h-1zM753 276h1v1h-1zM819 276h1v1h-1zM897 276h1v1h-1zM1017 276h1v1h-1zM1176 276h1v1h-1zM1242 276h1v1h-1zM51 277h1v1h-1zM117 277h1v1h-1zM277 277h1v1h-1zM396 277h1v1h-1zM474 277h1v1h-1zM753 277h1v1h-1zM819 277h1v1h-1zM897 277h1v1h-1zM1017 277h1v1h-1zM1123 277h1v1h-1zM1176 277h1v1h-1zM1242 277h1v1h-1zM51 278h1v1h-1zM396 278h1v1h-1zM474 278h1v1h-1zM819 278h1v1h-1zM897 278h1v1h-1zM1123 278h1v1h-1zM1242 278h1v1h-1zM51 279h1v1h-1zM396 279h1v1h-1zM474 279h1v1h-1zM819 279h1v1h-1zM897 279h1v1h-1zM1123 279h1v1h-1zM1242 279h1v1h-1zM51 280h1v1h-1zM396 280h1v1h-1zM474 280h1v1h-1zM819 280h1v1h-1zM897 280h1v1h-1zM1123 280h1v1h-1zM1242 280h1v1h-1zM51 281h1v1h-1zM117 281h1v1h-1zM277 281h1v1h-1zM396 281h1v1h-1zM474 281h1v1h-1zM753 281h1v1h-1zM819 281h1v1h-1zM897 281h1v1h-1zM1017 281h1v1h-1zM1117 281h13v1h-13zM1176 281h1v1h-1zM1242 281h1v1h-1zM51 282h1v1h-1zM117 282h1v1h-1zM277 282h1v1h-1zM396 282h1v1h-1zM474 282h1v1h-1zM753 282h1v1h-1zM819 282h1v1h-1zM897 282h1v1h-1zM1017 282h1v1h-1zM1176 282h1v1h-1zM1242 282h1v1h-1zM51 283h1v1h-1zM117 283h1v1h-1zM277 283h1v1h-1zM396 283h1v1h-1zM474 283h1v1h-1zM753 283h1v1h-1zM819 283h1v1h-1zM897 283h1v1h-1zM1017 283h1v1h-1zM1176 283h1v1h-1zM1242 283h1v1h-1zM51 284h1v1h-1zM117 284h1v1h-1zM277 284h1v1h-1zM396 284h1v1h-1zM474 284h1v1h-1zM594 284h1v1h-1zM753 284h1v1h-1zM819 284h1v1h-1zM897 284h1v1h-1zM1017 284h1v1h-1zM1176 284h1v1h-1zM1242 284h1v1h-1zM51 285h1v1h-1zM111 285h13v1h-13zM271 285h13v1h-13zM396 285h1v1h-1zM474 285h1v1h-1zM593 285h1v1h-1zM595 285h1v1h-1zM747 285h13v1h-13zM819 285h1v1h-1zM897 285h1v1h-1zM1011 285h12v1h-12zM1170 285h13v1h-13zM1242 285h1v1h-1zM51 286h1v1h-1zM396 286h1v1h-1zM474 286h1v1h-1zM594 286h1v1h-1zM819 286h1v1h-1zM897 286h1v1h-1zM1242 286h1v1h-1zM51 287h1v1h-1zM396 287h1v1h-1zM474 287h1v1h-1zM819 287h1v1h-1zM897 287h1v1h-1zM1242 287h1v1h-1zM51 288h1v1h-1zM396 288h1v1h-1zM474 288h1v1h-1zM819 288h1v1h-1zM897 288h1v1h-1zM1242 288h1v1h-1zM51 289h1v1h-1zM396 289h1v1h-1zM474 289h1v1h-1zM819 289h1v1h-1zM897 289h1v1h-1zM1242 289h1v1h-1zM51 290h1v1h-1zM396 290h1v1h-1zM474 290h1v1h-1zM819 290h1v1h-1zM897 290h1v1h-1zM1242 290h1v1h-1zM51 291h1v1h-1zM396 291h1v1h-1zM474 291h1v1h-1zM819 291h1v1h-1zM897 291h1v1h-1zM1242 291h1v1h-1zM51 292h1v1h-1zM396 292h1v1h-1zM474 292h1v1h-1zM819 292h1v1h-1zM897 292h1v1h-1zM1242 292h1v1h-1zM51 293h1v1h-1zM396 293h1v1h-1zM474 293h1v1h-1zM819 293h1v1h-1zM897 293h1v1h-1zM1242 293h1v1h-1zM51 294h1v1h-1zM396 294h1v1h-1zM474 294h1v1h-1zM819 294h1v1h-1zM897 294h1v1h-1zM1242 294h1v1h-1zM51 295h1v1h-1zM396 295h1v1h-1zM474 295h1v1h-1zM819 295h1v1h-1zM897 295h1v1h-1zM1242 295h1v1h-1zM51 296h1v1h-1zM396 296h1v1h-1zM474 296h1v1h-1zM819 296h1v1h-1zM897 296h1v1h-1zM1242 296h1v1h-1zM51 297h1v1h-1zM396 297h1v1h-1zM474 297h1v1h-1zM819 297h1v1h-1zM897 297h1v1h-1zM1242 297h1v1h-1zM51 298h1v1h-1zM396 298h1v1h-1zM474 298h1v1h-1zM819 298h1v1h-1zM897 298h1v1h-1zM1242 298h1v1h-1zM51 299h1v1h-1zM396 299h1v1h-1zM474 299h1v1h-1zM819 299h1v1h-1zM897 299h1v1h-1zM1242 299h1v1h-1zM51 300h1v1h-1zM396 300h1v1h-1zM474 300h1v1h-1zM819 300h1v1h-1zM897 300h1v1h-1zM1242 300h1v1h-1zM51 301h1v1h-1zM396 301h1v1h-1zM474 301h1v1h-1zM819 301h1v1h-1zM897 301h1v1h-1zM1242 301h1v1h-1zM51 302h1v1h-1zM396 302h1v1h-1zM474 302h1v1h-1zM819 302h1v1h-1zM897 302h1v1h-1zM1242 302h1v1h-1zM51 303h1v1h-1zM396 303h1v1h-1zM474 303h1v1h-1zM819 303h1v1h-1zM897 303h1v1h-1zM1242 303h1v1h-1zM51 304h1v1h-1zM396 304h1v1h-1zM474 304h1v1h-1zM819 304h1v1h-1zM897 304h1v1h-1zM1242 304h1v1h-1zM51 305h1v1h-1zM396 305h1v1h-1zM474 305h1v1h-1zM819 305h1v1h-1zM897 305h1v1h-1zM1242 305h1v1h-1zM51 306h1v1h-1zM396 306h1v1h-1zM474 306h1v1h-1zM819 306h1v1h-1zM897 306h1v1h-1zM1242 306h1v1h-1zM51 307h1v1h-1zM396 307h1v1h-1zM474 307h1v1h-1zM819 307h1v1h-1zM897 307h1v1h-1zM1242 307h1v1h-1zM51 308h1v1h-1zM396 308h1v1h-1zM474 308h1v1h-1zM819 308h1v1h-1zM897 308h1v1h-1zM1242 308h1v1h-1zM51 309h1v1h-1zM396 309h1v1h-1zM474 309h1v1h-1zM819 309h1v1h-1zM897 309h1v1h-1zM1242 309h1v1h-1zM51 310h1v1h-1zM396 310h1v1h-1zM474 310h1v1h-1zM819 310h1v1h-1zM897 310h1v1h-1zM1242 310h1v1h-1zM51 311h1v1h-1zM396 311h1v1h-1zM474 311h1v1h-1zM819 311h1v1h-1zM897 311h1v1h-1zM1242 311h1v1h-1zM51 312h1v1h-1zM396 312h1v1h-1zM474 312h1v1h-1zM819 312h1v1h-1zM897 312h1v1h-1zM1242 312h1v1h-1zM51 313h1v1h-1zM396 313h1v1h-1zM474 313h1v1h-1zM819 313h1v1h-1zM897 313h1v1h-1zM1242 313h1v1h-1zM51 314h1v1h-1zM396 314h1v1h-1zM474 314h1v1h-1zM819 314h1v1h-1zM897 314h1v1h-1zM1242 314h1v1h-1zM51 315h1v1h-1zM396 315h1v1h-1zM474 315h1v1h-1zM819 315h1v1h-1zM897 315h1v1h-1zM1242 315h1v1h-1zM51 316h1v1h-1zM396 316h1v1h-1zM474 316h1v1h-1zM819 316h1v1h-1zM897 316h1v1h-1zM1242 316h1v1h-1zM51 317h1v1h-1zM396 317h1v1h-1zM474 317h1v1h-1zM819 317h1v1h-1zM897 317h1v1h-1zM1242 317h1v1h-1zM51 318h1v1h-1zM396 318h1v1h-1zM474 318h1v1h-1zM819 318h1v1h-1zM897 318h1v1h-1zM1242 318h1v1h-1zM51 319h1v1h-1zM396 319h1v1h-1zM474 319h1v1h-1zM819 319h1v1h-1zM897 319h1v1h-1zM1242 319h1v1h-1zM51 320h1v1h-1zM396 320h1v1h-1zM474 320h1v1h-1zM819 320h1v1h-1zM897 320h1v1h-1zM1242 320h1v1h-1zM51 321h1v1h-1zM396 321h1v1h-1zM474 321h1v1h-1zM819 321h1v1h-1zM897 321h1v1h-1zM1242 321h1v1h-1zM51 322h1v1h-1zM396 322h1v1h-1zM474 322h1v1h-1zM819 322h1v1h-1zM897 322h1v1h-1zM1242 322h1v1h-1zM51 323h1v1h-1zM396 323h1v1h-1zM474 323h1v1h-1zM819 323h1v1h-1zM897 323h1v1h-1zM1242 323h1v1h-1zM51 324h1v1h-1zM396 324h1v1h-1zM474 324h1v1h-1zM819 324h1v1h-1zM897 324h1v1h-1zM1242 324h1v1h-1zM51 325h1v1h-1zM396 325h1v1h-1zM474 325h1v1h-1zM819 325h1v1h-1zM897 325h1v1h-1zM1242 325h1v1h-1zM51 326h1v1h-1zM396 326h1v1h-1zM474 326h1v1h-1zM819 326h1v1h-1zM897 326h1v1h-1zM1242 326h1v1h-1zM51 327h1v1h-1zM396 327h1v1h-1zM474 327h1v1h-1zM819 327h1v1h-1zM897 327h1v1h-1zM1242 327h1v1h-1zM51 328h1v1h-1zM396 328h1v1h-1zM474 328h1v1h-1zM819 328h1v1h-1zM897 328h1v1h-1zM1242 328h1v1h-1zM51 329h1v1h-1zM396 329h1v1h-1zM474 329h1v1h-1zM819 329h1v1h-1zM897 329h1v1h-1zM1242 329h1v1h-1zM51 330h1v1h-1zM396 330h1v1h-1zM474 330h1v1h-1zM819 330h1v1h-1zM897 330h1v1h-1zM1242 330h1v1h-1zM51 331h1v1h-1zM117 331h1v1h-1zM396 331h1v1h-1zM474 331h1v1h-1zM540 331h1v1h-1zM819 331h1v1h-1zM897 331h1v1h-1zM1017 331h1v1h-1zM1242 331h1v1h-1zM51 332h1v1h-1zM116 332h1v1h-1zM118 332h1v1h-1zM396 332h1v1h-1zM474 332h1v1h-1zM539 332h1v1h-1zM541 332h1v1h-1zM819 332h1v1h-1zM897 332h1v1h-1zM1016 332h1v1h-1zM1018 332h1v1h-1zM1242 332h1v1h-1zM51 333h1v1h-1zM117 333h1v1h-1zM396 333h1v1h-1zM474 333h1v1h-1zM540 333h1v1h-1zM819 333h1v1h-1zM897 333h1v1h-1zM1017 333h1v1h-1zM1242 333h1v1h-1zM51 334h1v1h-1zM396 334h1v1h-1zM474 334h1v1h-1zM819 334h1v1h-1zM897 334h1v1h-1zM1242 334h1v1h-1zM51 335h1v1h-1zM396 335h1v1h-1zM474 335h1v1h-1zM819 335h1v1h-1zM897 335h1v1h-1zM1242 335h1v1h-1zM51 336h1v1h-1zM396 336h1v1h-1zM474 336h1v1h-1zM819 336h1v1h-1zM897 336h1v1h-1zM1242 336h1v1h-1zM51 337h1v1h-1zM396 337h1v1h-1zM474 337h1v1h-1zM819 337h1v1h-1zM897 337h1v1h-1zM1242 337h1v1h-1zM51 338h1v1h-1zM117 338h1v1h-1zM396 338h1v1h-1zM474 338h1v1h-1zM540 338h1v1h-1zM819 338h1v1h-1zM897 338h1v1h-1zM963 338h1v1h-1zM1242 338h1v1h-1zM51 339h1v1h-1zM116 339h1v1h-1zM118 339h1v1h-1zM396 339h1v1h-1zM474 339h1v1h-1zM539 339h1v1h-1zM541 339h1v1h-1zM819 339h1v1h-1zM897 339h1v1h-1zM962 339h1v1h-1zM964 339h1v1h-1zM1242 339h1v1h-1zM51 340h1v1h-1zM117 340h1v1h-1zM396 340h1v1h-1zM474 340h1v1h-1zM540 340h1v1h-1zM819 340h1v1h-1zM897 340h1v1h-1zM963 340h1v1h-1zM1242 340h1v1h-1zM51 341h1v1h-1zM396 341h1v1h-1zM474 341h1v1h-1zM819 341h1v1h-1zM897 341h1v1h-1zM1242 341h1v1h-1zM51 342h1v1h-1zM396 342h1v1h-1zM474 342h1v1h-1zM819 342h1v1h-1zM897 342h1v1h-1zM1242 342h1v1h-1zM51 343h1v1h-1zM396 343h1v1h-1zM474 343h1v1h-1zM819 343h1v1h-1zM897 343h1v1h-1zM1242 343h1v1h-1zM51 344h1v1h-1zM396 344h1v1h-1zM474 344h1v1h-1zM819 344h1v1h-1zM897 344h1v1h-1zM1242 344h1v1h-1zM45 345h7v1h-7zM396 345h1v1h-1zM468 345h7v1h-7zM819 345h1v1h-1zM891 345h7v1h-7zM1242 345h1v1h-1zM51 346h1v1h-1zM396 346h1v1h-1zM474 346h1v1h-1zM819 346h1v1h-1zM897 346h1v1h-1zM1242 346h1v1h-1zM51 347h1v1h-1zM396 347h1v1h-1zM474 347h1v1h-1zM819 347h1v1h-1zM897 347h1v1h-1zM1242 347h1v1h-1zM51 348h1v1h-1zM396 348h1v1h-1zM474 348h1v1h-1zM819 348h1v1h-1zM897 348h1v1h-1zM1242 348h1v1h-1zM51 349h1v1h-1zM396 349h1v1h-1zM474 349h1v1h-1zM819 349h1v1h-1zM897 349h1v1h-1zM1242 349h1v1h-1zM51 350h1v1h-1zM396 350h1v1h-1zM474 350h1v1h-1zM819 350h1v1h-1zM897 350h1v1h-1zM1242 350h1v1h-1zM51 351h1v1h-1zM396 351h1v1h-1zM474 351h1v1h-1zM819 351h1v1h-1zM897 351h1v1h-1zM1242 351h1v1h-1zM51 352h1v1h-1zM396 352h1v1h-1zM474 352h1v1h-1zM819 352h1v1h-1zM897 352h1v1h-1zM1242 352h1v1h-1zM51 353h1v1h-1zM396 353h1v1h-1zM474 353h1v1h-1zM819 353h1v1h-1zM897 353h1v1h-1zM1242 353h1v1h-1zM51 354h1v1h-1zM396 354h1v1h-1zM474 354h1v1h-1zM819 354h1v1h-1zM897 354h1v1h-1zM1242 354h1v1h-1zM51 355h1v1h-1zM286 355h9v1h-9zM396 355h1v1h-1zM474 355h1v1h-1zM709 355h9v1h-9zM819 355h1v1h-1zM897 355h1v1h-1zM1132 355h9v1h-9zM1242 355h1v1h-1zM51 356h1v1h-1zM286 356h1v1h-1zM294 356h1v1h-1zM396 356h1v1h-1zM474 356h1v1h-1zM709 356h1v1h-1zM717 356h1v1h-1zM819 356h1v1h-1zM897 356h1v1h-1zM1132 356h1v1h-1zM1140 356h1v1h-1zM1242 356h1v1h-1zM51 357h1v1h-1zM286 357h1v1h-1zM294 357h1v1h-1zM396 357h1v1h-1zM474 357h1v1h-1zM709 357h1v1h-1zM717 357h1v1h-1zM819 357h1v1h-1zM897 357h1v1h-1zM1132 357h1v1h-1zM1140 357h1v1h-1zM1242 357h1v1h-1zM51 358h1v1h-1zM286 358h1v1h-1zM294 358h1v1h-1zM396 358h1v1h-1zM474 358h1v1h-1zM709 358h1v1h-1zM717 358h1v1h-1zM819 358h1v1h-1zM897 358h1v1h-1zM1132 358h1v1h-1zM1140 358h1v1h-1zM1242 358h1v1h-1zM51 359h1v1h-1zM286 359h1v1h-1zM294 359h1v1h-1zM396 359h1v1h-1zM474 359h1v1h-1zM709 359h1v1h-1zM717 359h1v1h-1zM819 359h1v1h-1zM897 359h1v1h-1zM1132 359h1v1h-1zM1140 359h1v1h-1zM1242 359h1v1h-1zM51 360h1v1h-1zM286 360h1v1h-1zM294 360h1v1h-1zM396 360h1v1h-1zM474 360h1v1h-1zM709 360h1v1h-1zM717 360h1v1h-1zM819 360h1v1h-1zM897 360h1v1h-1zM1132 360h1v1h-1zM1140 360h1v1h-1zM1242 360h1v1h-1zM51 361h1v1h-1zM286 361h9v1h-9zM396 361h1v1h-1zM474 361h1v1h-1zM709 361h9v1h-9zM819 361h1v1h-1zM897 361h1v1h-1zM1132 361h9v1h-9zM1242 361h1v1h-1zM51 362h1v1h-1zM396 362h1v1h-1zM474 362h1v1h-1zM819 362h1v1h-1zM897 362h1v1h-1zM1242 362h1v1h-1zM51 363h1v1h-1zM396 363h1v1h-1zM474 363h1v1h-1zM819 363h1v1h-1zM897 363h1v1h-1zM1242 363h1v1h-1zM51 364h1v1h-1zM396 364h1v1h-1zM474 364h1v1h-1zM819 364h1v1h-1zM897 364h1v1h-1zM1242 364h1v1h-1zM51 365h1v1h-1zM396 365h1v1h-1zM474 365h1v1h-1zM819 365h1v1h-1zM897 365h1v1h-1zM1242 365h1v1h-1zM51 366h1v1h-1zM396 366h1v1h-1zM474 366h1v1h-1zM819 366h1v1h-1zM897 366h1v1h-1zM1242 366h1v1h-1zM51 367h1v1h-1zM286 367h9v1h-9zM396 367h1v1h-1zM474 367h1v1h-1zM709 367h9v1h-9zM819 367h1v1h-1zM897 367h1v1h-1zM1132 367h9v1h-9zM1242 367h1v1h-1zM51 368h1v1h-1zM286 368h1v1h-1zM294 368h1v1h-1zM396 368h1v1h-1zM474 368h1v1h-1zM709 368h1v1h-1zM717 368h1v1h-1zM819 368h1v1h-1zM897 368h1v1h-1zM1132 368h1v1h-1zM1140 368h1v1h-1zM1242 368h1v1h-1zM51 369h1v1h-1zM286 369h1v1h-1zM294 369h1v1h-1zM396 369h1v1h-1zM474 369h1v1h-1zM709 369h1v1h-1zM717 369h1v1h-1zM819 369h1v1h-1zM897 369h1v1h-1zM1132 369h1v1h-1zM1140 369h1v1h-1zM1242 369h1v1h-1zM51 370h1v1h-1zM286 370h1v1h-1zM294 370h1v1h-1zM396 370h1v1h-1zM474 370h1v1h-1zM709 370h1v1h-1zM717 370h1v1h-1zM819 370h1v1h-1zM897 370h1v1h-1zM1132 370h1v1h-1zM1140 370h1v1h-1zM1242 370h1v1h-1zM51 371h1v1h-1zM286 371h1v1h-1zM294 371h1v1h-1zM396 371h1v1h-1zM474 371h1v1h-1zM709 371h1v1h-1zM717 371h1v1h-1zM819 371h1v1h-1zM897 371h1v1h-1zM1132 371h1v1h-1zM1140 371h1v1h-1zM1242 371h1v1h-1zM51 372h1v1h-1zM286 372h1v1h-1zM294 372h1v1h-1zM396 372h1v1h-1zM474 372h1v1h-1zM709 372h1v1h-1zM717 372h1v1h-1zM819 372h1v1h-1zM897 372h1v1h-1zM1132 372h1v1h-1zM1140 372h1v1h-1zM1242 372h1v1h-1zM51 373h1v1h-1zM286 373h1v1h-1zM294 373h1v1h-1zM396 373h1v1h-1zM474 373h1v1h-1zM709 373h1v1h-1zM717 373h1v1h-1zM819 373h1v1h-1zM897 373h1v1h-1zM1132 373h1v1h-1zM1140 373h1v1h-1zM1242 373h1v1h-1zM51 374h1v1h-1zM286 374h9v1h-9zM396 374h1v1h-1zM474 374h1v1h-1zM709 374h9v1h-9zM819 374h1v1h-1zM897 374h1v1h-1zM1132 374h9v1h-9zM1242 374h1v1h-1zM51 375h1v1h-1zM396 375h1v1h-1zM474 375h1v1h-1zM819 375h1v1h-1zM897 375h1v1h-1zM1242 375h1v1h-1zM51 376h1v1h-1zM396 376h1v1h-1zM474 376h1v1h-1zM819 376h1v1h-1zM897 376h1v1h-1zM1242 376h1v1h-1zM51 377h1v1h-1zM396 377h1v1h-1zM474 377h1v1h-1zM819 377h1v1h-1zM897 377h1v1h-1zM1242 377h1v1h-1zM51 378h1v1h-1zM396 378h1v1h-1zM474 378h1v1h-1zM819 378h1v1h-1zM897 378h1v1h-1zM1242 378h1v1h-1zM51 379h1v1h-1zM396 379h1v1h-1zM474 379h1v1h-1zM819 379h1v1h-1zM897 379h1v1h-1zM1242 379h1v1h-1zM51 380h1v1h-1zM396 380h1v1h-1zM474 380h1v1h-1zM819 380h1v1h-1zM897 380h1v1h-1zM1242 380h1v1h-1zM51 381h1v1h-1zM396 381h1v1h-1zM474 381h1v1h-1zM819 381h1v1h-1zM897 381h1v1h-1zM1242 381h1v1h-1zM51 382h1v1h-1zM396 382h1v1h-1zM474 382h1v1h-1zM819 382h1v1h-1zM897 382h1v1h-1zM1242 382h1v1h-1zM51 383h1v1h-1zM396 383h1v1h-1zM474 383h1v1h-1zM819 383h1v1h-1zM897 383h1v1h-1zM1242 383h1v1h-1zM51 384h1v1h-1zM396 384h1v1h-1zM474 384h1v1h-1zM819 384h1v1h-1zM897 384h1v1h-1zM1242 384h1v1h-1zM51 385h1v1h-1zM396 385h1v1h-1zM474 385h1v1h-1zM819 385h1v1h-1zM897 385h1v1h-1zM1242 385h1v1h-1zM51 386h1v1h-1zM396 386h1v1h-1zM474 386h1v1h-1zM819 386h1v1h-1zM897 386h1v1h-1zM1242 386h1v1h-1zM51 387h1v1h-1zM396 387h1v1h-1zM474 387h1v1h-1zM819 387h1v1h-1zM897 387h1v1h-1zM1242 387h1v1h-1zM51 388h1v1h-1zM396 388h1v1h-1zM474 388h1v1h-1zM819 388h1v1h-1zM897 388h1v1h-1zM1242 388h1v1h-1zM51 389h1v1h-1zM396 389h1v1h-1zM474 389h1v1h-1zM819 389h1v1h-1zM897 389h1v1h-1zM1242 389h1v1h-1zM51 390h1v1h-1zM396 390h1v1h-1zM474 390h1v1h-1zM819 390h1v1h-1zM897 390h1v1h-1zM1242 390h1v1h-1zM51 391h1v1h-1zM396 391h1v1h-1zM474 391h1v1h-1zM819 391h1v1h-1zM897 391h1v1h-1zM1242 391h1v1h-1zM51 392h1v1h-1zM396 392h1v1h-1zM474 392h1v1h-1zM819 392h1v1h-1zM897 392h1v1h-1zM1242 392h1v1h-1zM51 393h1v1h-1zM396 393h1v1h-1zM474 393h1v1h-1zM819 393h1v1h-1zM897 393h1v1h-1zM1242 393h1v1h-1zM51 394h1v1h-1zM396 394h1v1h-1zM474 394h1v1h-1zM819 394h1v1h-1zM897 394h1v1h-1zM1242 394h1v1h-1zM51 395h1v1h-1zM396 395h1v1h-1zM474 395h1v1h-1zM819 395h1v1h-1zM897 395h1v1h-1zM1242 395h1v1h-1zM51 396h1v1h-1zM396 396h1v1h-1zM474 396h1v1h-1zM819 396h1v1h-1zM897 396h1v1h-1zM1242 396h1v1h-1zM51 397h1v1h-1zM396 397h1v1h-1zM474 397h1v1h-1zM819 397h1v1h-1zM897 397h1v1h-1zM1242 397h1v1h-1zM51 398h1v1h-1zM117 398h1v1h-1zM396 398h1v1h-1zM474 398h1v1h-1zM594 398h1v1h-1zM819 398h1v1h-1zM897 398h1v1h-1zM963 398h1v1h-1zM1242 398h1v1h-1zM51 399h1v1h-1zM116 399h1v1h-1zM118 399h1v1h-1zM396 399h1v1h-1zM474 399h1v1h-1zM593 399h1v1h-1zM595 399h1v1h-1zM819 399h1v1h-1zM897 399h1v1h-1zM962 399h1v1h-1zM964 399h1v1h-1zM1242 399h1v1h-1zM51 400h1v1h-1zM117 400h1v1h-1zM396 400h1v1h-1zM474 400h1v1h-1zM594 400h1v1h-1zM819 400h1v1h-1zM897 400h1v1h-1zM963 400h1v1h-1zM1242 400h1v1h-1zM51 401h1v1h-1zM396 401h1v1h-1zM474 401h1v1h-1zM819 401h1v1h-1zM897 401h1v1h-1zM1242 401h1v1h-1zM51 402h1v1h-1zM396 402h1v1h-1zM474 402h1v1h-1zM819 402h1v1h-1zM897 402h1v1h-1zM1242 402h1v1h-1zM51 403h1v1h-1zM396 403h1v1h-1zM474 403h1v1h-1zM819 403h1v1h-1zM897 403h1v1h-1zM1242 403h1v1h-1zM51 404h1v1h-1zM396 404h1v1h-1zM474 404h1v1h-1zM819 404h1v1h-1zM897 404h1v1h-1zM1242 404h1v1h-1zM51 405h1v1h-1zM396 405h1v1h-1zM474 405h1v1h-1zM819 405h1v1h-1zM897 405h1v1h-1zM1242 405h1v1h-1zM51 406h1v1h-1zM396 406h1v1h-1zM474 406h1v1h-1zM819 406h1v1h-1zM897 406h1v1h-1zM1242 406h1v1h-1zM51 407h1v1h-1zM396 407h1v1h-1zM474 407h1v1h-1zM819 407h1v1h-1zM897 407h1v1h-1zM1242 407h1v1h-1zM51 408h1v1h-1zM396 408h1v1h-1zM474 408h1v1h-1zM819 408h1v1h-1zM897 408h1v1h-1zM1242 408h1v1h-1zM51 409h1v1h-1zM396 409h1v1h-1zM474 409h1v1h-1zM819 409h1v1h-1zM897 409h1v1h-1zM1242 409h1v1h-1zM51 410h1v1h-1zM396 410h1v1h-1zM474 410h1v1h-1zM819 410h1v1h-1zM897 410h1v1h-1zM1242 410h1v1h-1zM51 411h1v1h-1zM396 411h1v1h-1zM474 411h1v1h-1zM819 411h1v1h-1zM897 411h1v1h-1zM1242 411h1v1h-1zM51 412h346v1h-346zM474 412h346v1h-346zM897 412h346v1h-346z"/>
<rect x="111" y="234" width="12" height="3" fill="#000"/>
<rect x="165" y="203" width="11" height="3" fill="#000"/>
<rect x="271" y="217" width="12" height="3" fill="#000"/>
<rect x="324" y="164" width="12" height="3" fill="#000"/>
<rect x="534" y="224" width="12" height="3" fill="#000"/>
<rect x="588" y="220" width="11" height="3" fill="#000"/>
<rect x="694" y="178" width="12" height="3" fill="#000"/>
<rect x="747" y="185" width="12" height="3" fill="#000"/>
<rect x="957" y="226" width="12" height="3" fill="#000"/>
<rect x="1011" y="221" width="11" height="3" fill="#000"/>
<rect x="1117" y="191" width="12" height="3" fill="#000"/>
<rect x="1170" y="178" width="12" height="3" fill="#000"/>
</g>
<g font-family="'Liberation Sans', Arial, sans-serif" fill="#000" stroke="#000" stroke-width="0.2">
<text transform="translate(224.6,32) scale(0.86,1)" font-size="14" font-weight="bold" text-anchor="middle" stroke-width="0" textLength="29.07" lengthAdjust="spacing">LUZ</text>
<text transform="translate(39.3,79.2) rotate(-90)" font-size="10.6" text-anchor="middle">0.10</text>
<text transform="translate(39.3,168.2) rotate(-90)" font-size="10.6" text-anchor="middle">0.05</text>
<text transform="translate(39.3,257.2) rotate(-90)" font-size="10.6" text-anchor="middle">0.00</text>
<text transform="translate(39.3,346.2) rotate(-90)" font-size="10.6" text-anchor="middle">-0.05</text>
<text transform="translate(11.8,231.5) rotate(-90)" font-size="11" text-anchor="middle">Δ biomassa (g)</text>
<text x="144" y="424" font-size="15.5" font-style="italic" text-anchor="middle" stroke="#000" stroke-width="0.3" word-spacing="-1" textLength="85.5" lengthAdjust="spacing">G. opposita</text>
<text x="302.5" y="424" font-size="15.5" font-style="italic" text-anchor="middle" stroke="#000" stroke-width="0.3" word-spacing="-1" textLength="109.5" lengthAdjust="spacing">R. jasminoides</text>
<text x="303" y="363" font-size="10.7">controle</text>
<text x="302.4" y="376" font-size="10.7">tratamento</text>
<text transform="translate(647.4,32) scale(0.86,1)" font-size="14" font-weight="bold" text-anchor="middle" stroke-width="0" textLength="122.09" lengthAdjust="spacing">SERRAPILHEIRA</text>
<text transform="translate(462.3,79.2) rotate(-90)" font-size="10.6" text-anchor="middle">0.10</text>
<text transform="translate(462.3,168.2) rotate(-90)" font-size="10.6" text-anchor="middle">0.05</text>
<text transform="translate(462.3,257.2) rotate(-90)" font-size="10.6" text-anchor="middle">0.00</text>
<text transform="translate(462.3,346.2) rotate(-90)" font-size="10.6" text-anchor="middle">-0.05</text>
<text transform="translate(434.8,231.5) rotate(-90)" font-size="11" text-anchor="middle">Δ biomassa (g)</text>
<text x="567" y="424" font-size="15.5" font-style="italic" text-anchor="middle" stroke="#000" stroke-width="0.3" word-spacing="-1" textLength="85.5" lengthAdjust="spacing">G. opposita</text>
<text x="725.5" y="424" font-size="15.5" font-style="italic" text-anchor="middle" stroke="#000" stroke-width="0.3" word-spacing="-1" textLength="109.5" lengthAdjust="spacing">R. jasminoides</text>
<text x="726" y="363" font-size="10.7">controle</text>
<text x="725.4" y="376" font-size="10.7">tratamento</text>
<text transform="translate(1069.6,32) scale(0.86,1)" font-size="14" font-weight="bold" text-anchor="middle" stroke-width="0" textLength="100.58" lengthAdjust="spacing">COMPETIÇÃO</text>
<text transform="translate(885.3,79.2) rotate(-90)" font-size="10.6" text-anchor="middle">0.10</text>
<text transform="translate(885.3,168.2) rotate(-90)" font-size="10.6" text-anchor="middle">0.05</text>
<text transform="translate(885.3,257.2) rotate(-90)" font-size="10.6" text-anchor="middle">0.00</text>
<text transform="translate(885.3,346.2) rotate(-90)" font-size="10.6" text-anchor="middle">-0.05</text>
<text transform="translate(857.8,231.5) rotate(-90)" font-size="11" text-anchor="middle">Δ biomassa (g)</text>
<text x="990" y="424" font-size="15.5" font-style="italic" text-anchor="middle" stroke="#000" stroke-width="0.3" word-spacing="-1" textLength="85.5" lengthAdjust="spacing">G. opposita</text>
<text x="1148.5" y="424" font-size="15.5" font-style="italic" text-anchor="middle" stroke="#000" stroke-width="0.3" word-spacing="-1" textLength="109.5" lengthAdjust="spacing">R. jasminoides</text>
<text x="1149" y="363" font-size="10.7">controle</text>
<text x="1148.4" y="376" font-size="10.7">tratamento</text>
</g>
</svg>
</body></html>
